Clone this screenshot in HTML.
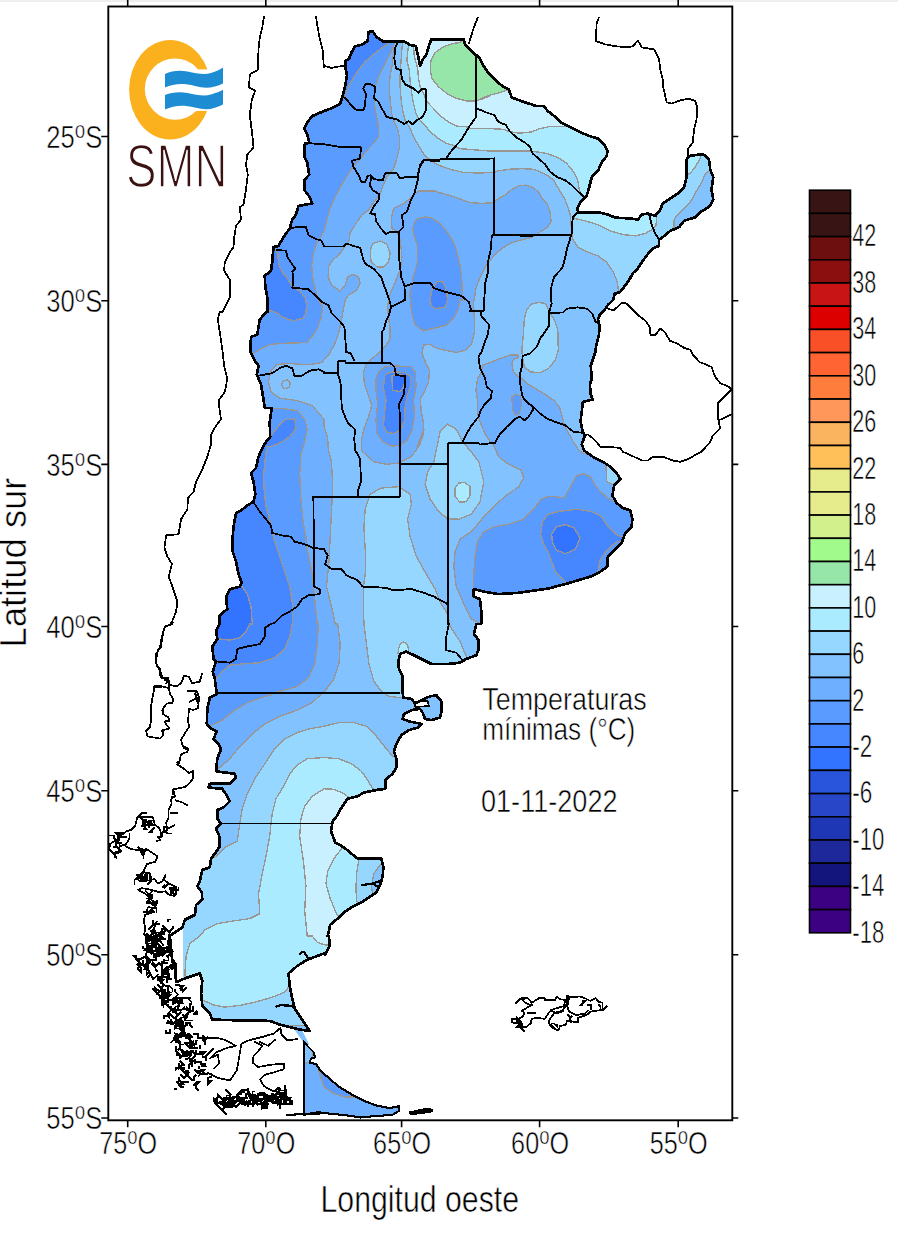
<!DOCTYPE html>
<html><head><meta charset="utf-8"><title>Temperaturas minimas</title>
<style>
html,body{margin:0;padding:0;background:#fff;}
body{width:898px;height:1250px;overflow:hidden;font-family:"Liberation Sans",sans-serif;}
svg{display:block}
text{font-family:"Liberation Sans",sans-serif;fill:#000;stroke:#fff;stroke-width:0.55px}
.tl{font-size:31.3px}
.cbl{font-size:30.5px}
</style></head><body>
<svg width="898" height="1250" viewBox="0 0 898 1250">
<rect width="898" height="1250" fill="#fff"/>
<rect x="0" y="0" width="898" height="2" fill="#eeeeee"/>
<g shape-rendering="crispEdges">
<defs><clipPath id="arg"><path d="M345.2,65.4 L345.2,61.2 L349,58.7 L351.5,52.4 L355.2,46.2 L361.4,44.9 L367.7,41.2 L368.4,32 L372.7,31.2 L376.4,36.9 L382.7,41.2 L386.4,41.2 L403.9,41.2 L410.1,44.9 L415.9,46.2 L417.6,53.7 L420.1,66.2 L422.6,59.9 L426.8,53.7 L428.8,46.2 L431.3,39.4 L463.8,39.4 L465,44.4 L471.3,51.2 L477.5,56.2 L480,58.7 L483.8,66.2 L488.8,73.6 L496.2,81.1 L502.5,86.1 L508.7,89.4 L511.7,97.4 L521.2,101.1 L531.2,104.3 L536.2,106.1 L543.7,106.1 L547.9,111.1 L554.2,116.1 L560.5,122.3 L570.5,127.3 L580.5,132.3 L589.2,136 L597.9,138.5 L604.2,144.8 L607.4,151 L606.7,156 L601.7,162.3 L597.9,171 L591.7,177.2 L589.2,187.2 L586.7,196 L580.5,202.2 L577.5,208.4 L578,212.2 L597.9,212.2 L607.9,214.7 L615.4,217.7 L630.4,218.4 L637.9,219.7 L641.6,214.7 L647.9,213.4 L651.6,214.7 L655.3,215.9 L660.3,209.7 L662.8,203.4 L670.3,198.5 L677.8,193.5 L684,187.2 L686.5,177.2 L686.5,159.8 L689,156 L697.8,154.8 L704,154.8 L709,159.8 L710.3,169.7 L713.3,177.2 L711.5,189.7 L713.3,199.7 L710.3,205.9 L700.3,212.2 L695.3,217.2 L684,220.9 L679.1,227.2 L670.3,230.9 L662.8,237.1 L659.1,239.6 L659.1,245.9 L652.8,248.4 L651.4,250 L646.9,255.3 L641.6,262.5 L637.1,269.6 L632.7,273.2 L629.1,280.3 L623.7,287.4 L620.2,291.9 L614.8,293.7 L613.1,299.9 L607.7,305.2 L604.1,310.6 L599.7,315 L597.9,319.5 L599.7,326.6 L598.8,335.5 L596.1,346.2 L595.2,352.4 L592.6,360.5 L590.8,365.8 L591.7,378.3 L589.9,385.4 L590.8,394.3 L592.6,399.7 L587.9,400.6 L582.9,401.9 L581.7,411.9 L580.5,421.8 L582.9,431.8 L584.9,435.6 L581.7,444.3 L584.2,450.5 L592.9,456.8 L602.9,461.8 L610.4,466.8 L616.6,473 L620.4,479.2 L614.2,485.5 L612.4,495.5 L616.6,503 L622.9,508 L630.4,510.5 L632.4,519.2 L631.6,526.7 L625.4,532.9 L621.6,542.9 L615.4,549.1 L607.9,556.6 L607.4,566.6 L600.4,571.6 L590.4,576.6 L578,580.3 L565.5,584.1 L555.5,586.6 L548,588.6 L536.2,590.3 L518.7,592.8 L498.7,594.1 L483.8,591.6 L473.8,589.1 L473.8,596.6 L480,599.1 L481.3,611.6 L481.3,624 L476.3,624 L473.8,634 L478.8,640.2 L478.8,649 L476.3,655.2 L466.3,658.9 L460,662.7 L448.8,663.9 L431.3,663.9 L423.9,660.2 L413.9,655.2 L406.4,651.5 L400.1,654 L398.4,661.4 L398.9,668.9 L402.6,676.4 L402.6,691.4 L403.4,697.6 L411.4,698.9 L415.1,703.4 L423.9,698.9 L430.1,696.4 L436.3,695.1 L441.3,701.4 L441.8,710.1 L440.1,717.6 L431.3,720.1 L425.1,718.9 L422.6,712.6 L420.1,708.9 L411.4,710.1 L403.9,713.9 L402.6,718.9 L408.9,721.4 L421.4,723.9 L417.6,727.6 L408.9,730.1 L401.4,735.1 L396.4,743.8 L393.9,751.3 L396.4,758.8 L396.4,767.5 L392.6,773.8 L385.2,780 L385.2,788.8 L376.4,790 L363.9,792.5 L357.7,796.2 L347.7,798.7 L341.5,807.5 L337.7,815 L332.7,821.2 L331,831.2 L335.2,842.4 L344,847.4 L351.5,853.7 L357.7,858.6 L381.4,858.6 L383.4,867.4 L382.7,876.1 L380.2,884.9 L376.4,892.3 L368.9,897.3 L361.4,902.3 L351.5,907.3 L344,912.3 L337.7,918.6 L330.2,924.8 L327.7,936 L329,936 L329.5,946 L325.2,954.7 L323.9,953.5 L317.2,956 L307.2,959.7 L297.2,966 L288.5,973.4 L289.7,985.9 L292.2,998.4 L294.7,1008.4 L299.7,1015.9 L304.7,1023.4 L309.7,1030.9 L299.7,1029.6 L289.7,1027.1 L279.7,1024.6 L269.7,1020.9 L239.8,1020.4 L212.3,1019.6 L209.8,1013.4 L202.3,1005.9 L201.1,993.4 L202.3,980.9 L199.9,973.4 L184.9,978.4 L176.1,982.2 L174.9,968.5 L172.4,961 L171.1,948.5 L169.9,936 L169.9,936 L174.9,932.3 L182.4,927.3 L184.9,919.8 L194.9,914.8 L196.1,904.8 L202.3,899.8 L201.8,892.3 L197.4,886.1 L199.9,881.1 L202.3,869.9 L209.8,867.4 L211.1,858.6 L214.8,853.7 L219.8,846.2 L219.3,836.2 L216.1,828.7 L221.1,823.7 L217.3,818.7 L217.3,810 L223.6,807.5 L229.8,801.2 L227.3,796.2 L222.3,788.8 L208.6,787.5 L209.8,783.8 L229.8,783.8 L236,777.5 L234.8,773.8 L216.1,771.3 L217.3,758.8 L221.1,748.8 L218.6,743.8 L213.6,738.8 L216.8,731.3 L211.1,728.8 L206.8,723.9 L207.3,708.9 L209.8,697.6 L216.8,693.9 L214.8,678.9 L212.8,671.4 L216.1,661.4 L213.6,658.9 L212.3,646.5 L217.3,639 L216.1,631.5 L219.3,624 L219.3,624 L219.8,615.3 L227.3,609.1 L226.1,596.6 L229.8,589.1 L239.8,586.6 L241.8,582.8 L238.5,574.1 L236,561.6 L232.8,551.6 L232.3,541.7 L233.5,526.7 L236,512.9 L241,510.5 L247.3,505.5 L253.5,501.7 L255.3,494.2 L253.5,481.7 L251,473 L256,468 L258.5,456.8 L262.3,448 L266,441.8 L270.2,436.8 L269.7,421.8 L271.7,408.1 L264.8,408.1 L263.5,399.4 L261,384.4 L256.8,374.4 L258.5,365.7 L254.8,360.7 L250.3,351.9 L251,337 L257.3,334.5 L259.8,319.5 L266,312 L267.7,312 L267.7,299.6 L265.3,287.1 L264.8,275.8 L271,270.8 L272.2,262.1 L273.5,247.1 L278.5,245.9 L283.5,237.1 L289.7,228.4 L292.2,219.7 L296,214.7 L298.5,205.9 L312.2,203.4 L309.7,197.2 L304.2,189.7 L304.7,179.7 L309.2,174.7 L307.2,162.3 L304.2,156 L304.7,144.8 L309.2,142.3 L307.2,134.8 L304.2,128.6 L307.2,122.3 L312.2,116.1 L323.9,111.1 L332.7,107.8 L340.2,103.6 L342.7,96.1 L345.2,86.1 L347,74.9 L345.2,67.4Z M303.7,1041.4 L306.9,1045.4 L313.6,1052.1 L314.9,1057.4 L310.9,1058.7 L309.6,1062.8 L316.2,1064.1 L320.3,1070.8 L328.3,1077.5 L339,1086.8 L352.3,1094.8 L365.7,1101.5 L376.4,1105.5 L389.7,1108.2 L399.1,1106.1 L399.1,1110.9 L392.4,1114.9 L373.7,1116.2 L360.3,1117.5 L349.7,1115.7 L328.3,1113.5 L317.6,1112.2 L303.7,1114.9Z M292.2,1025.9 L300.2,1026.9 L309,1044.6 L303.7,1042.4Z"/></clipPath><clipPath id="cut"><rect x="183.2" y="0" width="600" height="1250"/></clipPath></defs>
<g clip-path="url(#cut)"><g clip-path="url(#arg)">
<rect x="150" y="0" width="600" height="1130" fill="#82c3ff"/>
<path d="M402.6,42.5 L401.8,50.1 L401,61.8 L400.1,75.1 L400.1,86.8 L401,98.5 L402.6,110.2 L405.1,120.2 L410.2,128.6 L413.5,136.9 L418.5,145.3 L423.5,153.6 L428.5,158.6 L436.9,164.5 L450,169.2 L463.4,172.5 L478.4,173 L494.3,172.5 L497.6,170.9 L510.2,169.2 L521.8,168.7 L532.7,169.2 L540.2,171.7 L546.9,175.1 L553.6,180.1 L556.9,185.9 L560.3,191.8 L564.4,198.4 L567.8,206.8 L570.3,215.1 L570.6,225.2 L571.7,225.9 L572.2,234.6 L573,239.6 L578,247.1 L587.9,252.1 L597.9,255.9 L606.7,262.1 L613.4,272.1 L617.4,282.1 L618.4,290.8 L622.9,292.1 L800,291 L800,-10 L402,-10Z" fill="#96d7ff" stroke="#9a9590" stroke-width="1.35"/>
<path d="M408.5,45.1 L407.6,53.4 L406.8,60.1 L409.3,70.1 L410.2,81.8 L411.8,93.5 L413.5,103.5 L416,113.5 L418.5,118.5 L423.5,123.6 L430.2,131.9 L438.5,138.6 L446.9,143.6 L453.6,145.3 L459.4,148.6 L490,151.1 L495.1,151 L520.1,151 L531,151 L546.8,153.5 L558.5,157.7 L566.9,163.6 L573.6,171.9 L577.7,180.3 L579.4,190.3 L581.1,195.3 L585.2,198.6 L625,200 L625,-10 L408,-10Z" fill="#aaebff" stroke="#9a9590" stroke-width="1.35"/>
<path d="M574.2,214.7 L574.2,218.4 L585.4,220.9 L597.9,224.7 L610.4,230.9 L622.9,234.6 L635.4,235.9 L645.4,233.4 L651.6,229.7 L655.8,225.9 L656.8,219.7 L655.3,210.9 L582.9,209.2Z" fill="#aaebff" stroke="#9a9590" stroke-width="1.35"/>
<path d="M708,171.2 L704.6,174.5 L702.4,181.2 L699,186.8 L695.7,192.3 L692.9,197.9 L690.1,202.4 L685.7,206.8 L681.2,211.3 L676.8,215.7 L674,220.2 L674,226.9 L674,234.7 L730.2,234.7 L730.2,171.2Z" fill="#82c3ff" stroke="#9a9590" stroke-width="1.35"/>
<path d="M700.2,157.8 L697.9,162.3 L694.6,167.8 L690.1,173.4 L687.3,174.5 L674.5,174.5 L674.5,151.1 L700.2,151.1Z" fill="#aaebff" stroke="#9a9590" stroke-width="1.35"/>
<path d="M413.5,45.1 L414.3,56.7 L417.7,68.4 L418.5,78.5 L420.2,86.8 L423.5,93.5 L426.9,101.8 L433.5,108.5 L440.2,116 L448.6,121.9 L456.9,126.1 L466.9,126.9 L470.3,128.6 L490,128.6 L486.7,128.5 L503.4,129.3 L510.1,131.8 L520.1,133.2 L531.8,131.8 L540.2,128.5 L548.5,126.8 L560.2,126.8 L567.7,126.5 L573.6,125.1 L640,100 L640,-10 L413,-10Z" fill="#c8f0ff" stroke="#9a9590" stroke-width="1.35"/>
<path d="M463.6,38.4 L460.3,42.5 L453.6,43.4 L443.6,46.7 L435.2,52.6 L431,60.1 L430.2,70.1 L431.9,78.5 L438.5,86.8 L446.9,93.5 L456.9,98.5 L466.9,101 L475.3,101 L483.6,98.5 L490,96 L480,98.8 L490,95.1 L500.1,92.6 L506.7,90.4 L513.4,88.4 L513.4,43.3Z" fill="#96e6aa" stroke="#9a9590" stroke-width="1.35"/>
<path d="M207.3,859.9 L216.1,856.2 L224.8,847.4 L237.3,841.2 L239.8,823.7 L242.3,808.7 L247.3,793.7 L254.8,778.8 L264.8,763.8 L274.7,748.8 L284.7,738.8 L297.2,732.6 L309.7,728.8 L323.9,726.3 L339,722.6 L354,722.6 L366.4,726.3 L376.4,736.3 L386.4,748.8 L392.6,756.3 L401.4,758.8 L470,756 L470,1140 L150,1140 L150,860Z" fill="#96d7ff" stroke="#9a9590" stroke-width="1.35"/>
<path d="M381.4,791.2 L372.7,788.8 L367.7,780 L361.4,771.3 L351.5,763.8 L339,758.8 L324,757.5 L307.2,758.8 L297.2,765 L289.7,773.8 L283.5,786.3 L276,798.7 L272.2,813.7 L271,823.7 L269.7,836.2 L266,856.2 L262.3,873.6 L258.5,893.6 L259.8,913.6 L249.8,918.6 L232.3,921.1 L217.3,923.6 L204.8,929.8 L199.9,936 L189.9,943.5 L186.1,956 L184.9,973.4 L186.1,985.9 L192.4,994.7 L202.3,999.7 L212.3,1004.6 L224.8,1007.1 L239.8,1005.4 L254.8,1002.2 L272.2,997.2 L284.7,992.2 L288.5,987.2 L299.7,985.9 L420,987 L420,800Z" fill="#aaebff" stroke="#9a9590" stroke-width="1.35"/>
<path d="M356.5,798.7 L349,797.5 L344,793.7 L334,789.3 L324,788.8 L312.2,796.2 L304.7,806.2 L300.9,818.7 L299.7,836.2 L303.4,861.1 L305.9,886.1 L304.7,911.1 L307.2,936 L312.2,936 L317.2,942.2 L323.9,944.7 L334,946 L346.5,923.6 L339,917.3 L336.5,913.6 L330.2,898.6 L326,883.6 L327.7,871.1 L334,858.6 L341.5,848.7 L349,846.2 L349,823.7 L358.9,803.7Z" fill="#c8f0ff" stroke="#9a9590" stroke-width="1.35"/>
<path d="M358.9,856.2 L358.9,859.9 L356.5,873.6 L356,888.6 L356.5,901.1 L361.4,904.8 L398.9,898.6 L398.9,856.2Z" fill="#96d7ff" stroke="#9a9590" stroke-width="1.35"/>
<path d="M383.9,862.4 L380.2,864.9 L373.9,873.6 L371.4,886.1 L372.7,893.6 L398.9,893.6 L398.9,861.1Z" fill="#82c3ff" stroke="#9a9590" stroke-width="1.35"/>
<path d="M406.4,697.9 L400.1,697.6 L388.9,696.4 L381.4,691.4 L373.9,681.4 L368.9,663.9 L366.4,644 L363.9,624 L363.4,586.6 L365.2,574.1 L365.2,549.1 L363.9,526.7 L365.2,509.2 L370.2,494.2 L381.4,488 L398.9,486.7 L410.1,494.2 L411.4,504.2 L407.6,519.2 L410.1,536.7 L416.4,556.6 L426.3,574.1 L435.1,589.1 L441.3,604.1 L447.6,614 L450.1,626.5 L460,641.5 L466.3,656.5 L471.3,661.4 L478.8,686.4 L408.9,686.4Z" fill="#96d7ff" stroke="#9a9590" stroke-width="1.35"/>
<path d="M397.9,653.5 L398.9,647.7 L400.1,644 L403.9,642 L407.6,645.2 L408.9,652 L403.9,655.2Z" fill="#aaebff" stroke="#9a9590" stroke-width="1.35"/>
<path d="M433.8,461.8 L440.1,431.8 L447.6,424.3 L456.3,429.3 L462.5,441.8 L471.3,451.8 L478.8,461.8 L483.8,481.7 L480,501.7 L471.3,514.2 L458.8,519.2 L447.6,518.7 L438.8,511.7 L430.1,499.2 L425.1,484.2 L427.6,471.8Z" fill="#96d7ff" stroke="#9a9590" stroke-width="1.35"/>
<path d="M455.1,488 L458.8,483 L465,482.5 L470,486.7 L470,495.5 L466.3,501.7 L460,502.2 L455.1,496.7Z" fill="#aaebff" stroke="#9a9590" stroke-width="1.35"/>
<path d="M526.9,310 L531,304.2 L538.5,302.5 L545.2,303.3 L548.6,310 L555.2,321.7 L557.8,330.1 L558.3,350.1 L555.2,360.1 L548.6,368.5 L540.2,372.7 L530.2,371.8 L524.3,366.8 L522.7,358.5 L521.8,350.1 L523.5,333.4 L524.3,318.4Z" fill="#96d7ff" stroke="#9a9590" stroke-width="1.35"/>
<path d="M370.2,250.2 L372.7,243.5 L380.2,241 L386.9,244.4 L390.2,253.6 L388.5,261.9 L383.5,266.9 L376.9,266.9 L371,261.1Z" fill="#96d7ff" stroke="#9a9590" stroke-width="1.35"/>
<path d="M393.8,36.7 L393.8,43.4 L393.4,53.4 L392.6,63.4 L390.1,75.1 L389.3,86.8 L390.1,100.2 L391.8,113.5 L394.3,121.9 L397.6,128.6 L399.3,136.9 L399.3,148.6 L396.8,158.6 L393.6,168.4 L386.9,176.7 L382.7,186.7 L380.2,194.3 L375.2,200.1 L368.5,210.1 L361.8,215.1 L356,223.5 L350.1,232.7 L349.3,240.2 L345.1,246 L340.1,253.6 L333.4,259.4 L328.8,266.1 L328.1,276.9 L331.8,285.3 L340.1,291.1 L345.1,285.3 L347.6,276.9 L352.6,274.4 L358.5,276.9 L360.2,283.6 L356.8,290.3 L348.5,295.3 L345.1,300 L344.3,305 L342.6,313.4 L340.9,323.4 L338.4,333.4 L334.3,345.1 L328.4,355.1 L321.7,362.6 L311.7,364.3 L300,364.3 L290,363.5 L277.2,364.4 L271,370.7 L268.5,381.9 L271,391.9 L279.7,398.1 L297.2,400.6 L312.2,405.6 L319.7,414.3 L323.9,419.3 L324.2,426.9 L327.6,437 L328.4,450 L331.5,461.8 L332.7,486.7 L331.5,511.7 L330.2,536.7 L329,561.6 L326.5,586.6 L332.7,611.6 L335.2,624 L337.7,624 L340.2,644 L339,663.9 L334,678.9 L326.5,688.9 L324,691.4 L312.2,702.6 L297.2,710.1 L279.7,716.4 L264.8,723.9 L252.3,733.8 L239.8,746.3 L229.8,758.8 L219.8,767.5 L209.8,771.3 L150,767 L150,-10 L393,-10Z" fill="#6eafff" stroke="#9a9590" stroke-width="1.35"/>
<path d="M281.5,384.4 L283.5,380.6 L287.2,379.9 L290.2,383.1 L289.2,386.9 L286,388.9 L282.7,387.6Z" fill="#82c3ff" stroke="#9a9590" stroke-width="1.35"/>
<path d="M440,193.4 L435.3,190.9 L418.6,190.9 L414.4,194.3 L410.3,198.4 L403.6,203.4 L393.6,208.5 L391.6,216.8 L391.9,228.5 L396.9,231.8 L400.2,240.2 L401.1,248.5 L401.9,256.9 L401.6,265.2 L398.6,273.6 L395.2,282 L390.2,293.6 L388.5,300 L387.7,306.7 L388.5,316.7 L389.9,326.7 L389.9,338.4 L386,345.9 L380.2,351.8 L371,359.3 L366,364.3 L363.5,371.8 L364.3,383.5 L367.7,393.5 L371.8,405.2 L368.5,416.9 L363.5,430.3 L361.8,438.6 L361.8,450 L362.7,451.8 L373.9,461.8 L386.4,464.3 L398.9,463 L411.4,456.8 L420.1,444.3 L423.9,429.3 L416.9,447 L422.8,437 L423.6,423.6 L421.1,410.2 L420.3,398.5 L423.6,393.5 L428.6,381.8 L429.5,370.2 L425.3,361.8 L422,353.4 L423.6,345.1 L430.3,344.3 L435.3,347.6 L440,349.3 L448.4,350.9 L456.7,352.6 L465.1,350.1 L471.7,343.4 L474.2,333.4 L474.2,316.7 L473.4,300 L474.2,300 L475.9,288.6 L480.1,276.9 L485.1,266.9 L490.1,260.2 L495.1,254.4 L501.8,248.5 L510.2,243.5 L520.2,240.2 L531,237.7 L536.9,234.9 L540.2,231.8 L546.9,227.7 L551.1,221.8 L550.2,212.6 L546.9,203.4 L541.9,198.4 L538.5,191.8 L532.7,187.6 L526,185.1 L518.5,185.9 L511.8,189.3 L505.1,195.1 L497.6,199.3 L494.3,202.6 L481.8,203.4 L470.1,202.6 L458.4,198.4 L448.4,195.1 L440,192.6Z" fill="#6eafff" stroke="#9a9590" stroke-width="1.35"/>
<path d="M482.6,365.1 L490.1,362.6 L500.1,358.5 L510.2,355.1 L517.7,354.8 L518.5,357.6 L513.5,359.3 L511.8,364.3 L513.5,371.8 L517.7,376 L521.8,378.5 L526.9,383.5 L535.2,388.5 L545.2,394.4 L553.6,400.2 L559.4,406.9 L561.9,415.2 L564.4,425.3 L568.6,433.6 L573.6,442 L578.6,450 L583.6,453.7 L700,460 L700,640 L479,640 L478.8,622.8 L471.3,619 L463.8,604.1 L456.3,586.6 L453.8,566.6 L455.1,551.6 L460,539.2 L471.3,531.7 L483.8,516.7 L496.2,504.2 L506.2,495.5 L518.7,486.7 L523.7,478 L521.2,470.5 L508.7,464.3 L498.7,456.8 L493.7,445.5 L489.3,440.3 L485.1,433.6 L480.1,421.9 L477.6,413.6 L477.6,400.2 L475.9,390.2 L477.6,378.5 L480.9,373.5Z" fill="#6eafff" stroke="#9a9590" stroke-width="1.35"/>
<path d="M395.1,36.7 L395.1,42.5 L390.1,53.4 L384.3,65.1 L378.4,76.8 L375.9,85.1 L374.2,93.5 L374.2,103.5 L375.9,113.5 L378.1,123.6 L378.4,136.9 L373.4,143.6 L365.1,152 L360.2,159.2 L351.8,168.4 L343.4,181.7 L335.9,195.1 L330.1,208.5 L326.7,220.2 L324.2,230.2 L320.1,237.7 L316.7,242.7 L313.4,253.6 L311.7,265.2 L312.5,276.9 L315.1,288.6 L318.4,300 L321.7,304.2 L322.6,308.4 L320.9,318.4 L317.6,327.6 L313.4,335.1 L306.7,342.6 L290,343.1 L284.7,343.2 L269.7,344.5 L259.8,349.4 L253.5,353.2 L247.3,354.4 L150,355 L150,-10 L395,-10Z" fill="#5a9bff" stroke="#9a9590" stroke-width="1.35"/>
<path d="M267.2,408.1 L272.2,408.1 L284.7,408.9 L297.2,410.6 L304.7,419.3 L307.2,429.3 L304.7,441.8 L300.9,454.3 L299.7,474.3 L300.9,499.2 L303.4,524.2 L305.9,536.7 L307.2,549.1 L309.7,561.6 L312.2,574.1 L314.7,599.1 L317.2,624 L318.4,624 L317.2,644 L314.7,663.9 L308.4,677.7 L297.2,686.4 L279.7,691.4 L269.7,695.1 L249.8,701.4 L234.8,710.1 L222.3,720.1 L209.8,726.3 L199.9,728.8 L150,730 L150,408Z" fill="#5a9bff" stroke="#9a9590" stroke-width="1.35"/>
<path d="M440,223.5 L432,218.1 L425.3,216.8 L418.6,218.5 L414.4,221.8 L412.8,228.5 L414.4,236.9 L417.8,246.9 L417.8,260.2 L415.3,270.3 L412.8,278.6 L411.9,283.6 L409.9,292 L410.3,300 L410.3,300 L411.9,313.4 L415.3,325.1 L423.6,330.9 L433.6,328.4 L440,326.7 L440,326.7 L446.7,325.1 L453.4,318.4 L458.4,308.4 L460,300 L462.5,300 L461.7,276.9 L460,265.2 L456.7,251.9 L453.4,241.9 L446.7,231.8 L440,223.5Z" fill="#5a9bff" stroke="#9a9590" stroke-width="1.35"/>
<path d="M430,300 L432,290 L437,281.5 L443,282 L446.7,291 L447.5,300 L445,307 L440,308 L435,308.5 L431.5,306Z" fill="#4687ff" stroke="#9a9590" stroke-width="1.35"/>
<path d="M376,378.5 L378.5,371.8 L385.2,366.8 L396.9,366 L411.1,366.8 L415.3,371.8 L416.1,386.9 L413.6,400.2 L414.4,416.9 L411.9,430.3 L406.9,440.3 L400.2,445.3 L391.9,446.1 L383.5,442 L376.9,433.6 L376,420.3 L377.7,403.6 L376,390.2Z" fill="#5a9bff" stroke="#9a9590" stroke-width="1.35"/>
<path d="M384.4,376.8 L386.9,373.5 L393.6,371.8 L405.2,372.7 L410.3,376.8 L410.3,386.9 L406.9,396.9 L405.2,406.9 L404.4,420.3 L400.2,430.3 L393.6,433.6 L386.9,432 L383.5,425.3 L384.4,413.6 L386,400.2 L383.5,388.5Z" fill="#4687ff" stroke="#9a9590" stroke-width="1.35"/>
<path d="M391.9,376 L392.2,383.5 L392.7,390.2 L400.2,391.5 L403.6,386.9 L405.2,378.5 L403.6,375.2 L396.9,374.3Z" fill="#3273ff" stroke="#9a9590" stroke-width="1.35"/>
<path d="M511.8,396.9 L516,394.4 L520.2,396 L521.8,403.6 L519.3,413.6 L515.2,415.2 L512.7,409.4Z" fill="#5a9bff" stroke="#9a9590" stroke-width="1.35"/>
<path d="M473.8,590.3 L473.8,574.1 L475,556.6 L477.5,541.7 L483.8,531.7 L493.7,526.7 L508.7,524.2 L523.7,519.2 L533.7,509.2 L541.2,499.2 L547.9,496.7 L555.5,496.7 L564.2,498 L570.5,486.7 L576.7,475.5 L584.2,473.8 L590.4,476.8 L594.2,484.2 L600.4,491.7 L607.9,498 L614.2,501.7 L622.9,504.2 L700,500 L700,612 L483.8,595.3Z" fill="#5a9bff" stroke="#9a9590" stroke-width="1.35"/>
<path d="M547.9,514.2 L542.4,521.7 L540.7,534.2 L543.7,544.2 L547.9,551.6 L555.5,571.6 L565.5,582.1 L578,599.1 L647.9,561.6 L632.9,531.7 L621.6,536.7 L615.4,534.2 L607.9,526.7 L601.7,516.7 L591.7,511.7 L578,509.2 L560.5,511.2 L548,514.2Z" fill="#4687ff" stroke="#9a9590" stroke-width="1.35"/>
<path d="M616.6,541.7 L606.7,550.4 L600.4,559.1 L597.9,571.6 L596.7,576.6 L612.9,576.6 L627.9,541.7Z" fill="#5a9bff" stroke="#9a9590" stroke-width="1.35"/>
<path d="M551.7,534.2 L556.7,526.7 L565.5,524.7 L574.2,527.9 L580,537.9 L575.5,549.1 L565.5,553.6 L556.7,550.4 L552.5,542.9Z" fill="#3273ff" stroke="#9a9590" stroke-width="1.35"/>
<path d="M262.3,443.1 L266,443.1 L274.7,430.6 L284.7,419.8 L294.7,418.8 L296,428.1 L289.7,436.8 L279.7,443.1 L269.7,446.8 L266.7,446.8 L264.8,461.8 L263.5,476.8 L264.3,491.7 L266,506.7 L269.7,519.2 L272.2,531.7 L274.7,541.7 L279.7,556.6 L284.7,571.6 L289.7,586.6 L292.2,601.6 L292.2,624 L292.2,624 L289.7,636.5 L284.7,649 L274.7,657.7 L259.8,662.7 L242.3,663.9 L229.8,665.2 L222.3,671.4 L216.8,677.7 L209.8,680.2 L150,680 L150,440Z" fill="#4687ff" stroke="#9a9590" stroke-width="1.35"/>
<path d="M237.3,585.3 L242.3,586.6 L247.3,594.1 L251,606.6 L252.3,624 L249.8,624 L246,631.5 L239.8,637.7 L229.8,640.2 L219.3,639 L209.8,639 L150,640 L150,585Z" fill="#3273ff" stroke="#9a9590" stroke-width="1.35"/>
<path d="M388.4,36.7 L388.4,43.4 L380.1,49.2 L373.4,54.2 L365.1,61.8 L358.4,70.1 L353.4,77.6 L349.2,85.1 L346.3,91.8 L345,96.8 L340,100.2 L323.3,100.2 L323.3,20Z" fill="#4687ff" stroke="#9a9590" stroke-width="1.35"/>
<path d="M273.4,247.8 L275.6,250.1 L277.9,253.4 L278.4,262.3 L280.1,267.9 L282.9,273.5 L286.8,276.8 L289.6,282.4 L292.3,285.7 L296.8,289 L301.2,292.9 L305.1,298 L306.8,305.7 L305.7,312.4 L303.5,318 L297.9,319.7 L293.5,320.8 L287.9,319.1 L282.3,316.9 L276.7,313 L272.3,311.3 L269.5,310.8 L256.7,310.8 L256.7,247.8Z" fill="#4687ff" stroke="#9a9590" stroke-width="1.35"/>
<path d="M301.5,1062.8 L440.5,1062.8 L440.5,1126.9 L301.5,1126.9Z" fill="#6eafff" stroke="#9a9590" stroke-width="1.35"/>
<path d="M290.9,1025.3 L312.2,1025.3 L312.2,1062.2 L301.5,1062.2Z" fill="#82c3ff" stroke="#9a9590" stroke-width="1.35"/>
<path d="M318.9,1070.8 L320.3,1076.1 L324.3,1086.8 L333.6,1093.5 L345.6,1097 L353.7,1097 L344.3,1089.5 L333.6,1082.8 L325.6,1074.8Z" fill="#5a9bff" stroke="#9a9590" stroke-width="1.35"/>
<path d="M605.9,465.5 L606.7,481.7 L612.9,484.7 L622.9,478 L620.4,466.8Z" fill="#96d7ff" stroke="#9a9590" stroke-width="1.35"/>
</g></g>
<path d="M264,16.2 L262.3,27.5 L259.8,37.4 L258.5,49.9 L257.8,69.9 L249.8,74.4 L249,87.4 L255.3,90.4 L251.8,99.9 L249.8,114.8 L252.3,134.8 L253.5,147.3 L247.3,154.8 L246,164.8 L247.8,174.7 L246,189.7 L243.5,204.7 L239.8,207.2 L241,219.7 L236,225.9 L234.3,237.1 L233.5,247.1 L229.8,252.1 L224.8,262.1 L224.1,270.8 L229.8,279.6 L230.3,297.1 L227.3,302 L222.3,312 L219.8,312 L217.8,319.5 L219.8,332 L222.3,349.4 L224.3,366.9 L227.3,378.9 L224.8,391.9 L218.6,400.6 L219.8,411.9 L221.1,419.3 L216.1,425.6 L211.1,434.3 L211.1,444.3 L207.3,456.8 L202.3,469.3 L196.1,481.7 L193.6,491.7 L187.9,498 L187.4,509.2 L181.1,519.2 L178.6,534.2 L166.2,535.4 L164.4,547.9 L167.4,556.6 L171.9,564.1 L168.6,576.6 L172.4,586.6 L177.4,601.6 L176.1,611.6 L171.1,624 L172.4,624 L164.9,626.5 L161.9,636.5 L159.9,647.7 L156.2,654 L156.2,663.9 L159.9,670.2 L162.4,677.7 L168.6,677.7 L166.2,683.9" fill="none" stroke="#000" stroke-width="1.75" stroke-linejoin="round"/>
<path d="M315.9,16.2 L317.7,27.5 L319.7,38.7 L322.7,49.9 L323.9,67.4 L325.2,66.2 L331.5,67.9 L345.2,65.4" fill="none" stroke="#000" stroke-width="1.75" stroke-linejoin="round"/>
<path d="M478,17 L473.8,27.5 L468.8,43.7" fill="none" stroke="#000" stroke-width="1.75" stroke-linejoin="round"/>
<path d="M599.2,17 L596.7,22.5 L595.9,41.2 L605.4,44.4 L615.4,46.2 L627.9,47.4 L632.9,46.2 L637.9,40.4 L641.6,47.4 L654.1,49.4 L659.1,58.7 L660.3,69.9 L662.8,79.9 L663.3,87.4 L665.3,96.1 L666.6,102.3 L671.6,103.6 L680.3,100.3 L689,98.6 L695.3,101.1 L697.3,107.3 L696.5,119.8 L694,129.8 L692.8,142.3 L688.3,148.5 L687.8,156" fill="none" stroke="#000" stroke-width="1.75" stroke-linejoin="round"/>
<path d="M606.8,307.9 L613.1,310.6 L617.5,307 L622,302.6 L626.4,303.5 L632.7,309.7 L638.9,315.9 L645.1,320.4 L649.6,326.6 L650.5,335.2 L655.8,334.6 L660.3,328.4 L664.7,332 L670.1,340.9 L677.2,343.5 L684.3,348 L690.6,349.8 L693.2,355.1 L699.8,362.2 L702.8,363.2 L711.5,366.9 L715.2,376.9 L720.2,383.1 L729,386.9 L731.5,389.4" fill="none" stroke="#000" stroke-width="1.75" stroke-linejoin="round"/>
<path d="M731.5,389.4 L722.7,398.1 L717.7,403.1 L718.2,419.3 L720.2,428.1 L712.8,435.6 L710.3,441.8 L701.5,451.8 L696.5,454.3 L687.8,459.3 L680.3,461.8 L672.8,460.5 L662.8,456.8 L652.8,456.8 L647.9,460.5 L641.6,460.5 L634.1,456.8 L622.9,451.8 L620.4,448 L607.9,446.8 L600.4,446.8 L595.4,440.6 L587.9,434.3 L584.9,435.6" fill="none" stroke="#000" stroke-width="1.75" stroke-linejoin="round"/>
<path d="M718.2,420.6 L731.5,414.3" fill="none" stroke="#000" stroke-width="1.75" stroke-linejoin="round"/>
<path d="M198,1038 L218,1038 L225.8,1040.2 L235.8,1045.8 L226.9,1048 L215.8,1052.5 L210.2,1058.1 L218,1054.7 L219.1,1063.6 L213.5,1069.2" fill="none" stroke="#000" stroke-width="1.75" stroke-linejoin="round"/>
<path d="M241.4,1043.6 L249.2,1040.2 L262.5,1036.9 L273.7,1033.6 L280.4,1028 L281.5,1034.7 L287,1040.2 L298.2,1039.1" fill="none" stroke="#000" stroke-width="1.75" stroke-linejoin="round"/>
<path d="M241.4,1043.6 L239.2,1056.9 L236.9,1070.3 L230.2,1080.3 L218,1078.1 L206.9,1072.5" fill="none" stroke="#000" stroke-width="1.75" stroke-linejoin="round"/>
<path d="M253.6,1041.4 L262.5,1045.8 L258.1,1051.4 L253.6,1055.8 L252.5,1062.5 L258.1,1067 L271.4,1064.7 L283.7,1063.6 L283.7,1069.2 L273.7,1072.5 L264.8,1074.8 L260.3,1079.2 L263.7,1085.9 L271.4,1090.4 L283.7,1093.7" fill="none" stroke="#000" stroke-width="1.75" stroke-linejoin="round"/>
<path d="M259.2,1041.4 L268.1,1045.8 L275.9,1039.1" fill="none" stroke="#000" stroke-width="1.75" stroke-linejoin="round"/>
<path d="M170.1,930 L167.9,943.4 L171.2,956.7 L175.7,963.4 L175.7,981.2" fill="none" stroke="#000" stroke-width="1.75" stroke-linejoin="round"/>
<path d="M163.1,633.4 L160.8,647.4 L157.7,650.5 L156.1,659.9 L156.9,666.1 L160,669.2 L160,675.5 L162.4,678.6 L167,678.6 L169.4,684.8 L176.4,686.4 L181.1,683.3 L184.2,675.5 L188.9,677 L192,683.3 L199.8,681.7 L202.1,673.1" fill="none" stroke="#000" stroke-width="1.75" stroke-linejoin="round"/>
<path d="M153.8,686.4 L156.9,685.6 L162.4,686.4 L168.6,688 L170.2,694.2 L173.3,698.9 L172.5,702.8 L167,703.5 L163.1,708.2 L162.4,713.7 L168.6,717.6 L169.4,720.7 L164.7,721.5 L167,725.4 L169.4,728.5 L163.1,730 L163.1,735.5 L160,738.6 L147.6,736.3 L146,730.8 L149.9,726.9 L151.4,719.1 L150.7,709 L152.2,698.9 L153.8,691.1 L153.8,686.4" fill="none" stroke="#000" stroke-width="1.75" stroke-linejoin="round"/>
<path d="M186.5,691.1 L196.7,691.1 L199,697.3 L198.2,708.2 L193.5,709.8 L188.9,709 L188.1,722.3 L189.6,726.2 L185,733.2 L181.1,739.4 L182.6,745.6 L188.1,748.8 L187.3,751.9 L181.1,754.2 L179.5,761.2 L177.2,764.3 L184.2,769 L188.9,772.9 L193.5,770.6 L192.8,778.4 L190.4,782.3 L185,787 L173.3,789.3 L172.5,795.5 L170.9,800.1" fill="none" stroke="#000" stroke-width="1.75" stroke-linejoin="round"/>
<path d="M188.9,702 L195.1,698.9 L199.8,700.4" fill="none" stroke="#000" stroke-width="1.75" stroke-linejoin="round"/>
<path d="M173.3,790 L174.8,796.2 L170.9,799.4 L171.7,804 L168.6,810.3 L168.6,818.1 L166.3,822.7 L167,830.5 L162.4,832.9 L161.6,836.8 L157.7,836.8 L160,839.9 L156.1,841.4" fill="none" stroke="#000" stroke-width="1.75" stroke-linejoin="round"/>
<path d="M174.8,800.1 L182.6,802.5 L188.1,805.6" fill="none" stroke="#000" stroke-width="1.75" stroke-linejoin="round"/>
<path d="M170.2,812.6 L178,813.4" fill="none" stroke="#000" stroke-width="1.75" stroke-linejoin="round"/>
<path d="M167,829 L174.8,825.1" fill="none" stroke="#000" stroke-width="1.75" stroke-linejoin="round"/>
<path d="M161.6,836.8 L160.8,832.1 L159.2,828.2 L154.6,824.3 L153,817.3 L137.4,817.3 L135.1,825.9 L131.2,829.8 L126.5,831.3 L120.3,836 L115.6,840.7 L110.1,843.8 L109.4,849.2 L114,853.9 L119.5,852.4 L119.5,846.1 L125.7,844.6 L129.6,838.3 L129.6,832.9" fill="none" stroke="#000" stroke-width="1.75" stroke-linejoin="round"/>
<path d="M125.7,846.1 L131.2,849.2 L139,850 L146.8,849.2 L151.4,852.4 L157.7,856.3 L155.3,861.7 L146.8,864.1 L144.4,869.5 L142.1,875 L136.6,878.9 L140.5,881.2 L149.9,880.4 L154.6,878.9 L157.7,883.5 L162.4,881.2 L165.5,875 L163.9,879.6 L168.6,883.5 L176.4,887.4 L174.8,896 L168.6,894.5 L165.5,891.3 L159.2,892.1 L151.4,889.8 L142.1,888.2 L138.2,889.8 L143.7,892.9 L148.3,896 L152.2,900.7 L156.9,903 L154.6,908.5 L148.3,906.9 L146,911.6 L153,912.4 L145.2,914.7 L143.7,921 L145.2,927.2 L144.4,933.4 L146.8,938.1 L146.8,945.9 L153,947.5 L146.8,952.1 L145.2,956.8 L137.4,960.7 L142.1,964.6 L148.3,969.3 L151.4,975.5 L153,980.1" fill="none" stroke="#000" stroke-width="1.75" stroke-linejoin="round"/>
<path d="M156.9,921 L154.6,927.2 L152.2,931.9 L159.2,932.7" fill="none" stroke="#000" stroke-width="1.75" stroke-linejoin="round"/>
<path d="M153,935 L159.2,939.7 L163.9,945.9" fill="none" stroke="#000" stroke-width="1.75" stroke-linejoin="round"/>
<path d="M521,998.3 L528.1,998.3 L531.7,1002.8 L538.8,998.3 L545,998.3 L545,1000.1 L554.8,1000.1 L556.6,996.5 L560.2,999.2 L565.5,1000.1 L563.7,1006.3 L556.6,1008.1 L551.3,1009.9 L547.7,1014.3 L545,1018.8 L537,1017.9 L531.7,1018.8 L530.8,1023.3 L526.3,1026.8 L521.9,1026.8 L517.4,1023.3 L512.1,1022.4 L512.1,1018.8 L517.4,1018.8 L522.8,1017 L524.5,1012.6 L521.9,1010.8 L526.3,1008.1 L530.8,1005.4 L525.4,1002.8 L522.8,1000.1 L521,998.3" fill="none" stroke="#000" stroke-width="1.75" stroke-linejoin="round"/>
<path d="M567.3,994.7 L569.1,997.4 L579.8,996.5 L585.1,998.3 L590.5,1001 L595.8,998.3 L598.5,1001.9 L602.6,1002.8 L602.6,1009.9 L595.8,1010.8 L590.5,1011.7 L587.8,1014.3 L583.3,1016.1 L578,1017.9 L578,1022.4 L572.7,1021.5 L567.3,1020.6 L565.5,1025 L560.2,1025.9 L558.4,1030.4 L553.9,1028.6 L550.4,1025.9 L548.6,1021.5 L551.3,1017 L554.8,1012.6 L562,1010.8 L565.5,1006.3 L567.3,1001 L567.3,994.7" fill="none" stroke="#000" stroke-width="1.75" stroke-linejoin="round"/>
<path d="M551.3,1010.8 L556.6,1013.5 L563.7,1010.8" fill="none" stroke="#000" stroke-width="1.75" stroke-linejoin="round"/>
<path d="M569.1,998.3 L567.3,1006.3 L569.1,1011.7 L576.2,1015.2 L585.1,1013.5 L588.7,1009.9" fill="none" stroke="#000" stroke-width="1.75" stroke-linejoin="round"/>
<path d="M165,939 L161,939 L161,935 L165,931 M148,937 L148,938.5 L144,934.5 L146,934.5 M148,939 L149.5,939 L149.5,941 M162,952 L162,950 L160,950 L162,948 M167,956 L168.5,957.5 L168.5,960.5 L165.5,960.5 M167,950 L169,952 L172,952 L168,956 M157,951 L157,949 L153,945 M150,940 L153,937 L149,937 L150.5,935.5 L150.5,939.5 M163,938 L159,934 L161,932 L161,934 M163,953 L163,949 L166,952 L163,955 L163,952 M160,950 L158,948 L160,950 L160,951.5 M154,942 L154,946 L150,946 L148.5,946 L151.5,949 M147,934 L149,936 L146,936 M168,921 L168,919.5 L170,919.5 M164,929 L162,929 L162,932 L164,934 M160,940 L156,940 L156,938.5 L159,938.5 L159,941.5 M151,931 L153,933 L149,937 L151,937 L155,937 M163,926 L167,930 L169,932 L173,928 L173,926.5 M159,935 L159,936.5 L156,933.5 L156,935.5 L159,935.5 M148,941 L146,939 L146,942 L146,943.5 M167,967 L163,971 L163,972.5 M155,954 L155,956 L155,954.5 L159,950.5 L163,950.5 M159,951 L161,951 L161,948 L159,950 M152,964 L155,967 L159,963 L161,965 M147,946 L149,948 L152,948 M167,963 L164,963 L164,959 L164,960.5 M156,957 L156,960 L152,960 M158,955 L155,955 L153.5,956.5 L153.5,953.5 M147,950 L148.5,948.5 L144.5,948.5 L143,948.5 L143,946.5 M162,962 L162,964 L162,965.5 L162,969.5 M161,977 L165,977 L163.5,977 L163.5,974 L165,974 M167,948 L163,948 L163,951 L163,952.5 L160,952.5 M171,965 L167,969 L170,966 M159,954 L157.5,954 L159,954 M160,977 L158,977 L158,980 L161,980 L161,983 M162,979 L160.5,979 L162,980.5 M147,952 L148.5,952 L147,950.5 M146,958 L146,954 L146,955.5 L149,958.5 M167,947 L167,950 L168.5,950 M167,970 L167,968 L168.5,969.5 M167,972 L169,974 L169,977 L169,979 L171,979 M153,989 L156,992 L160,996 L164,1000 M169,967 L173,967 L171.5,968.5 L174.5,968.5 M167,977 L167,981 L167,982.5 L167,978.5 M162,975 L162,973 L162,970 L162,966 L162,962 M166,986 L168,986 L169.5,986 L172.5,989 L172.5,991 M168,988 L168,992 L166.5,993.5 L162.5,993.5 M157,971 L155.5,969.5 L155.5,965.5 L152.5,962.5 L152.5,964.5 M176,985 L177.5,985 L179,985 M160,998 L161.5,996.5 L161.5,994.5 L161.5,998.5 L161.5,1000.5 M166,993 L166,991.5 L166,995.5 L163,995.5 M160,981 L164,985 L162.5,986.5 M172,969 L172,967 L174,967 L176,969 M165,974 L165,972 L168,975 L168,971 L166,971 M162,980 L163.5,980 L162,981.5 M175,990 L175,991.5 L178,994.5 L175,997.5 L175,1000.5 M162,980 L162,977 L166,977 L162,977 L158,977 M165,992 L163,994 L163,990 L160,987 L158,985 M157,990 L159,990 L157,990 L155,988 L155,989.5 M164,1002 L168,1006 L168,1004.5 L166.5,1004.5 M186,998 L182,998 L180,998 M162,998 L163.5,998 L163.5,1001 L163.5,1003 L163.5,1007 M175,1003 L175,1001 L175,1004 L175,1001 L177,999 M166,993 L166,997 L169,994 L169,992.5 L171,992.5 M186,1009 L184,1009 L184,1007.5 L181,1010.5 M164,999 L166,997 L162,997 L162,994 M180,1000 L181.5,1000 L183,998.5 M169,996 L169,994.5 L169,991.5 M190,1004 L191.5,1004 L191.5,1002 L187.5,998 L190.5,998 M181,998 L182.5,998 L182.5,1001 M186,988 L184.5,989.5 L182.5,991.5 L182.5,988.5 L180.5,986.5 M175,1000 L179,1004 L179,1002 L175,998 L179,998 M168,997 L166,995 L170,995 L168,997 M173,999 L173,1001 L173,1004 M181,990 L181,987 L179.5,985.5 L183.5,985.5 L180.5,988.5 M162,1005 L162,1001 L166,1001 L166,1003 M165,990 L163,990 L161,990 L157,994 M175,1008 L175,1012 L176.5,1012 L176.5,1010 L180.5,1010 M194,1014 L197,1014 L197,1011 L197,1013 M169,1014 L167,1014 L170,1014 L174,1018 M186,1023 L190,1023 L190,1025 L192,1027 M168,1021 L168,1019.5 L168,1022.5 L169.5,1022.5 L171,1024 M185,1019 L185,1020.5 L188,1020.5 L192,1020.5 M189,1011 L193,1011 L193,1007 M186,1015 L189,1012 L189,1010 M180,1019 L180,1022 L176,1026 L176,1022 L176,1020.5 M190,1005 L190,1009 L190,1011 L187,1008 L187,1010 M188,1014 L185,1017 L183,1015 M175,1000 L171,1000 L168,1000 L164,1004 M178,1008 L178,1005 L178,1006.5 L175,1006.5 L179,1006.5 M168,1002 L168,998 L166,998 L162,994 L162,992 M181,1002 L182.5,1003.5 L181,1003.5 L179,1001.5 M182,1023 L182,1026 L182,1030 L185,1033 M194,1014 L196,1012 L196,1014 M180,1023 L180,1027 L180,1025 L180,1029 L182,1031 M183,1026 L183,1022 L181.5,1022 L181.5,1019 M171,1007 L171,1009 L169.5,1007.5 L165.5,1003.5 M176,1026 L179,1023 L179,1024.5 M187,1017 L185,1019 L185,1017.5 L181,1017.5 M180,1026 L178.5,1026 L174.5,1026 L174.5,1029 M169,1014 L169,1017 L167.5,1015.5 M175,1040 L175,1037 L179,1041 L179,1043 L180.5,1043 M176,1027 L176,1028.5 L178,1028.5 M179,1023 L176,1020 L176,1017 L179,1014 M196,1048 L192,1048 L192,1044 L192,1045.5 M182,1025 L182,1021 L178,1021 L178,1019.5 L180,1019.5 M170,1030 L170,1033 L166,1033 L166,1031 M176,1023 L176,1021 L173,1024 L171.5,1024 M176,1042 L180,1042 L180,1043.5 M184,1030 L184,1026 L186,1026 L183,1026 L181,1026 M180,1045 L180,1048 L178.5,1049.5 M173,1012 L173,1010 L174.5,1010 L173,1008.5 L169,1012.5 M171,1020 L171,1023 L167,1023 M172,1022 L168,1022 L171,1022 M189,1035 L189,1039 L193,1043 M181,1033 L179.5,1034.5 L182.5,1034.5 M188,1034 L188,1035.5 L188,1033.5 M186,1044 L190,1048 L193,1045 L190,1045 L190,1042 M177,1034 L180,1037 L176,1037 L177.5,1038.5 M168,1016 L164,1016 L164,1018 M193,1044 L191.5,1044 L194.5,1044 L194.5,1048 L197.5,1048 M177,1016 L181,1012 L178,1015 L175,1012 L177,1014 M176,1036 L176,1034.5 L174.5,1033 M186,1054 L182,1050 L180.5,1050 L182.5,1052 L184,1053.5 M198,1038 L198,1034 L195,1034 L193.5,1034 M180,1043 L180,1044.5 L183,1044.5 M186,1052 L186,1055 L184.5,1056.5 L187.5,1056.5 M181,1036 L185,1036 L183.5,1034.5 L183.5,1033 M190,1059 L192,1059 L195,1056 M178,1038 L176.5,1039.5 L176.5,1038 M190,1042 L190,1038 L190,1035 L192,1037 M182,1052 L184,1054 L181,1057 M178,1041 L178,1039.5 L176.5,1039.5 M206,1059 L206,1061 L206,1057 L203,1057 M203,1040 L205,1042 L205,1045 L205,1042 L205,1043.5 M176,1068 L177.5,1068 L175.5,1070 M200,1046 L200,1049 L200,1047 M185,1043 L189,1043 L190.5,1043 M177,1035 L179,1037 L182,1034 M177,1054 L178.5,1055.5 L176.5,1055.5 M177,1038 L174,1038 L174,1039.5 L171,1042.5 M187,1025 L185.5,1025 L187.5,1023 M187,1051 L187,1055 L189,1055 L189,1052 L185,1052 M203,1036 L206,1039 L208,1037 L206,1039 M190,1035 L186,1035 L186,1038 L189,1038 L187,1036 M183,1030 L183,1032 L181.5,1032 M195,1054 L197,1054 L201,1054 M193,1061 L189,1065 L189,1068 M206,1074 L204.5,1074 L200.5,1074 L198.5,1076 M201,1070 L204,1070 L202.5,1071.5 L205.5,1074.5 L207,1074.5 M206,1056 L207.5,1054.5 L209,1053 L213,1049 M200,1052 L203,1052 L203,1054 L205,1052 L203.5,1052 M195,1054 L193,1052 L195,1054 M190,1059 L190,1061 L192,1061 L192,1059.5 M205,1064 L203.5,1064 L205.5,1066 L201.5,1066 M195,1062 L195,1063.5 L195,1061.5 L195,1059.5 M192,1066 L192,1064 L190,1064 L191.5,1064 M196,1044 L196,1042.5 L196,1040.5 L194.5,1040.5 L197.5,1040.5 M180,1058 L180,1056.5 L180,1055 L176,1051 L176,1047 M209,1081 L211,1081 L208,1084 L208,1082 L208,1078 M186,1059 L187.5,1059 L190.5,1056 M199,1067 L199,1069 L199,1067.5 M192,1044 L193.5,1042.5 L193.5,1040.5 M179,1078 L179,1082 L179,1080 L183,1084 L181,1084 M210,1074 L211.5,1074 L211.5,1077 L209.5,1077 M191,1055 L191,1052 L192.5,1050.5 L190.5,1050.5 M205,1041 L205,1039 L206.5,1039 M196,1051 L196,1052.5 L196,1054 M200,1073 L198,1073 L195,1070 M179,1064 L179,1068 L183,1064 L180,1061 L184,1065 M196,1087 L196,1084 L196,1088 L198,1090 M181,1067 L181,1069 L184,1072 L186,1074 M188,1082 L185,1082 L181,1082 L181,1086 L177,1082 M181,1075 L184,1078 L188,1074 L188,1071 M197,1084 L199,1082 L197,1082 L194,1085 M188,1076 L192,1080 L194,1080 L194,1077 L195.5,1075.5 M184,1069 L182.5,1067.5 L184,1067.5 M179,1085 L181,1087 L183,1087 M199,1071 L200.5,1071 L197.5,1071 L197.5,1073 L199,1071.5 M196,1062 L199,1062 L201,1062 L201,1064 L202.5,1065.5 M175,1089 L176.5,1089 L175,1089 M186,1071 L184.5,1072.5 L188.5,1072.5 L186.5,1074.5 L186.5,1072.5 M215,1101 L215,1099.5 L213.5,1101 L213.5,1098 L215.5,1100 M216,1103 L216,1099 L218,1097 L218,1095 L222,1099 M224,1098 L227,1098 L230,1098 L230,1094 L226,1090 M220,1102 L218.5,1102 L220.5,1102 M217,1103 L221,1103 L225,1107 L222,1110 L226,1114 M224,1103 L226,1103 L223,1100 M230,1102 L232,1100 L235,1097 L236.5,1097 L232.5,1097 M229,1098 L229,1100 L232,1100 M217,1099 L215.5,1100.5 L215.5,1103.5 L218.5,1106.5 L220.5,1108.5 M225,1098 L226.5,1099.5 L226.5,1095.5 L229.5,1095.5 L229.5,1097 M225,1100 L225,1104 L225,1100 M222,1102 L225,1105 L225,1107 L229,1107 L232,1107 M216,1101 L214.5,1101 L214.5,1103 L217.5,1103 L217.5,1100 M221,1104 L221,1102.5 L219.5,1104 L221,1102.5 L218,1102.5 M236,1101 L234,1101 L231,1101 M240,1102 L242,1102 L244,1102 M237,1099 L237,1100.5 L234,1100.5 L232,1100.5 L232,1098.5 M230,1099 L230,1096 L230,1094.5 L232,1094.5 L230,1094.5 M241,1102 L238,1105 L236,1107 M235,1103 L231,1103 L235,1103 L231,1107 M227,1099 L223,1103 L225,1105 L229,1105 M243,1100 L246,1103 L246,1101.5 L243,1104.5 M227,1098 L229,1100 L229,1101.5 L233,1101.5 L231.5,1100 M228,1102 L232,1106 L233.5,1106 L231.5,1106 L235.5,1106 M238,1097 L239.5,1098.5 L239.5,1100.5 M244,1102 L244,1098 L247,1098 M232,1101 L232,1098 L233.5,1098 M237,1096 L238.5,1096 L242.5,1100 L240.5,1100 M231,1102 L234,1102 L236,1102 L232,1102 L230,1102 M239,1099 L237,1101 L240,1101 M254,1101 L258,1101 L261,1101 L265,1097 L262,1094 M254,1100 L254,1097 L252.5,1095.5 M257,1098 L254,1098 L257,1101 M248,1103 L252,1099 L253.5,1097.5 L250.5,1094.5 L249,1096 M261,1101 L261,1102.5 L262.5,1104 M256,1100 L254.5,1100 L256,1100 M259,1104 L260.5,1104 L262.5,1104 L261,1104 L262.5,1105.5 M257,1098 L257,1096 L259,1094 M254,1104 L250,1104 L246,1104 L242,1104 M257,1100 L257,1104 L253,1100 L253,1104 L253,1106 M248,1103 L248,1101 L248,1104 L248,1102 L245,1105 M264,1102 L268,1098 L265,1101 L265,1098 M245,1098 L242,1101 L242,1098 M256,1100 L256,1098 L256,1096.5 L256,1095 L256,1096.5 M251,1098 L252.5,1096.5 L252.5,1093.5 L252.5,1091.5 L254.5,1091.5 M250,1103 L250,1104.5 L248,1104.5 L248,1106 M272,1098 L275,1098 L275,1095 L276.5,1095 M268,1101 L272,1097 L272,1099 M269,1100 L269,1101.5 L269,1098.5 L266,1098.5 L269,1095.5 M274,1103 L275.5,1103 L274,1103 L278,1099 L281,1102 M262,1103 L262,1105 L262,1108 L266,1104 L264.5,1104 M276,1100 L280,1096 L283,1099 L285,1097 L285,1093 M266,1098 L266,1102 L264.5,1102 L267.5,1102 L267.5,1103.5 M274,1102 L271,1099 L267,1099 M273,1098 L271,1098 L272.5,1098 L274,1096.5 M276,1098 L276,1094 L280,1090 L278,1088 L276,1090 M280,1102 L278,1104 L278,1101 M267,1104 L267,1108 L264,1108 L268,1104 M281,1100 L281,1098.5 L279,1100.5 L277.5,1099 L275.5,1099 M271,1101 L273,1103 L277,1103 M263,1103 L263,1107 L261.5,1107 M264,1102 L265.5,1103.5 L262.5,1103.5 L259.5,1103.5 M285,1104 L286.5,1104 L283.5,1101 L283.5,1099.5 L283.5,1095.5 M286,1099 L286,1100.5 L286,1098.5 M285,1098 L285,1094 L286.5,1094 L286.5,1090 M288,1098 L285,1095 L282,1095 M284,1100 L284,1097 L282,1097 M290,1098 L290,1102 L292,1104 M285,1102 L285,1100 L286.5,1100 L286.5,1104 M280,1103 L280,1104.5 L280,1108.5 M284,1099 L284,1103 L284,1101 M281,1104 L284,1104 L288,1104 L292,1104 L292,1101 M241,1092 L239.5,1092 L243.5,1092 M246,1097 L246,1094 L248,1094 M250,1098 L253,1095 L255,1095 M241,1094 L238,1094 L242,1090 L244,1092 M243,1090 L244.5,1090 L247.5,1090 L249.5,1092 L249.5,1096 M248,1092 L249.5,1092 L248,1092 L248,1089 M264,1097 L266,1095 L262,1095 M271,1096 L267,1096 L264,1093 M263,1095 L261,1093 L263,1093 M258,1095 L261,1095 L259.5,1093.5 M272,1097 L275,1097 L278,1097 L278,1101 M271,1097 L273,1097 L273,1094 M255,1099 L253.5,1100.5 L252,1100.5 L252,1098.5 M262,1099 L258,1099 L258,1095 L258,1093.5 L259.5,1093.5 M270,1097 L268.5,1098.5 L272.5,1102.5 M279,1094 L283,1094 L285,1092 L285,1090 L285,1086 M275,1096 L279,1092 L279,1088 M272,1095 L272,1093 L272,1096 L272,1099 L275,1099 M283,1096 L284.5,1094.5 L284.5,1090.5 L280.5,1090.5 L280.5,1088.5 M278,1098 L274,1098 L276,1100 L279,1097 L275,1097 M284,1100 L286,1098 L290,1098 L288,1100 L289.5,1100 M143,825 L144.5,826.5 L143,826.5 M151,825 L149,825 L145,825 L146.5,825 M154,828 L150,832 L152,832 M144,821 L145.5,822.5 L142.5,825.5 M149,823 L151,821 L149.5,821 L151,822.5 L149.5,824 M149,826 L149,822 L146,822 L146,820 M149,827 L149,824 L145,820 L146.5,820 L142.5,820 M142,826 L143.5,826 L146.5,829 L143.5,829 M149,825 L153,825 L151.5,823.5 M143,823 L143,820 L139,816 L142,813 L146,813 M164,832 L162.5,832 L162.5,834 M163,832 L164.5,830.5 L167.5,833.5 L171.5,833.5 M164,830 L164,827 L166,827 M141,849 L142.5,849 L142.5,851 L144.5,853 L144.5,854.5 M141,851 L141,852.5 L141,850.5 M144,851 L144,852.5 L147,849.5 L145.5,849.5 M142,849 L140,849 L138.5,847.5 M142,853 L142,854.5 L143.5,856 L143.5,854 L143.5,858 M114,847 L117,847 L121,851 L119.5,852.5 L118,852.5 M115,853 L115,855 L115,857 L116.5,857 L116.5,858.5 M116,852 L118,852 L120,850 M116,847 L116,843 L119,843 L121,843 M116,840 L119,840 L119,837 L123,837 L126,837 M118,837 L122,833 L118,833 L116,833 L118,835 M114,837 L114,835.5 L110,835.5 L108.5,835.5 M114,838 L118,842 L119.5,843.5 M147,877 L147,873 L149,873 M139,875 L137.5,875 L137.5,877 L134.5,880 L134.5,884 M144,877 L147,877 L147,881 L147,877 L143,881 M137,875 L140,878 L140,875 L144,871 M142,877 L142,879 L142,881 L143.5,881 L143.5,878 M151,877 L151,881 L148,884 M150,879 L150,877 L150,874 M145,875 L145,877 L142,877 L142,874 M142,879 L142,876 L138,876 M142,874 L142,872.5 L146,872.5 L146,874.5 M171,892 L171,890 L171,894 L173,892 M167,885 L168.5,883.5 L164.5,887.5 L164.5,885.5 L163,887 M172,889 L170.5,890.5 L170.5,887.5 M173,890 L177,890 L178.5,890 L178.5,887 L178.5,888.5 M172,889 L173.5,889 L172,890.5 L172,892 M174,894 L176,894 L176,892.5 L176,888.5 L172,884.5 M171,888 L174,888 L171,888 L169.5,888 L169.5,889.5 M151,897 L151,898.5 L147,898.5 M150,895 L150,893.5 L152,891.5 L152,888.5 L152,891.5 M150,902 L153,905 L157,901 M149,901 L151,903 L147,903 L147,901.5 L151,897.5 M153,903 L153,904.5 L155,906.5 L156.5,908 L156.5,912 M151,898 L152.5,898 L152.5,895 L149.5,895 L145.5,891 M149,912 L151,910 L153,908 M153,911 L155,913 L152,910 M145,912 L147,912 L144,912 M155,924 L158,924 L159.5,924 M154,929 L154,930.5 L156,930.5 L153,930.5 M154,930 L154,932 L157,935 L157,936.5 L158.5,935 M153,921 L153,925 L149,929 M148,964 L148,962.5 L150,962.5 M161,955 L161,952 L165,952 L168,952 M156,950 L156,947 L152,943 L152,939 M154,957 L154,954 L150,950 L150,951.5 M158,944 L160,946 L158.5,947.5 M151,951 L147,951 L148.5,951 M157,951 L159,953 L159,956 L157,956 M147,948 L147,945 L147,943.5 L151,943.5 M153,941 L154.5,941 L156,941 M156,947 L156,943 L156,941.5 M152,945 L152,941 L149,938 L150.5,936.5 M147,957 L147,960 L150,960 L146,964 M156,951 L159,951 L155,955 L156.5,956.5 M147,950 L145,950 L148,947 L148,944 M148,936 L148,937.5 L144,933.5 M157,942 L154,942 L154,938 M147,958 L148.5,958 L148.5,962 L148.5,964 L145.5,967 M148,949 L149.5,947.5 L153.5,951.5 L151.5,953.5 L148.5,950.5 M154,951 L157,951 L155,951 L158,951 M148,967 L146,969 L144.5,969 L147.5,966 L147.5,964.5 M143,965 L147,965 L150,962 L150,960 M137,959 L134,956 L136,956 M148,977 L149.5,975.5 L149.5,971.5 L146.5,974.5 L146.5,971.5 M143,961 L143,963 L140,966 L138.5,967.5 M138,969 L141,972 L141,968 M139,962 L139,966 L137.5,964.5 M148,962 L146.5,960.5 L146.5,959 L146.5,957.5 M153,978 L154.5,978 L158.5,974 L155.5,977 M147,970 L148.5,968.5 L148.5,965.5 L147,965.5 L148.5,967 M531,1005 L532.5,1005 L530.5,1005 M524,999 L520,999 L516,1003 M528,1013 L532,1013 L535,1013 M517,1022 L517,1018 L519,1020 L521,1022 M521,1024 L519,1024 L519,1022 L517.5,1020.5 M521,1023 L517,1027 L520,1027 L524,1031 M522,1024 L522,1025.5 L520.5,1025.5 M557,1025 L557,1026.5 L554,1023.5 L552,1023.5 M551,1025 L555,1029 L553.5,1027.5 M588,1005 L591,1005 L591,1009 M583,1001 L585,1001 L581,1005 L582.5,1005 M599,1005 L600.5,1006.5 L600.5,1010.5 L602.5,1010.5 L606.5,1006.5 M570,1020 L570,1018 L571.5,1016.5 M571,1022 L569.5,1020.5 L569.5,1016.5 L568,1015" fill="none" stroke="#000" stroke-width="1.9" stroke-linecap="square"/>
<path d="M414.4,701.9 L427.6,700.6 L428.8,705.9 L415.4,707.1Z" fill="#fff" stroke="#000" stroke-width="1.6"/>
<path d="M285.9,1115.3 L298.2,1114.2 L320,1113.5" fill="none" stroke="#000" stroke-width="2.2" stroke-linejoin="round"/>
<path d="M135.6,960.1 L141.2,958.5 L145.6,956.7" fill="none" stroke="#000" stroke-width="2.2" stroke-linejoin="round"/>
<path d="M154.6,687.2 L161.6,686.7" fill="none" stroke="#000" stroke-width="2.2" stroke-linejoin="round"/>
<path d="M163.9,679.4 L168.6,680.2 L168.6,688" fill="none" stroke="#000" stroke-width="2.2" stroke-linejoin="round"/>
<path d="M162.4,709.8 L163.1,712.9" fill="none" stroke="#000" stroke-width="2.2" stroke-linejoin="round"/>
<path d="M162.4,730 L163.1,734.7" fill="none" stroke="#000" stroke-width="2.2" stroke-linejoin="round"/>
<path d="M176.4,762 L179.5,764.3" fill="none" stroke="#000" stroke-width="2.2" stroke-linejoin="round"/>
<path d="M183.4,747.2 L187.3,749.5" fill="none" stroke="#000" stroke-width="2.2" stroke-linejoin="round"/>
<path d="M170.9,621.7 L173.3,623.3" fill="none" stroke="#000" stroke-width="2.2" stroke-linejoin="round"/>
<path d="M195.1,692.6 L198.2,703.5" fill="none" stroke="#000" stroke-width="2.2" stroke-linejoin="round"/>
<path d="M408.9,1112.7 L416.4,1111 L426.3,1109 L433.3,1110" fill="none" stroke="#000" stroke-width="2.2" stroke-linejoin="round"/>
<path d="M410.1,1114 L418.9,1113.2 L431.3,1111.7" fill="none" stroke="#000" stroke-width="2.2" stroke-linejoin="round"/>
<path d="M412.6,1113 L423.9,1111.2 L432.6,1110.7" fill="none" stroke="#000" stroke-width="2.2" stroke-linejoin="round"/>
<path d="M275.4,1006.8 L280.1,1005.2 L290.8,1005.7 L293.5,1007.1" fill="none" stroke="#000" stroke-width="2.2" stroke-linejoin="round"/>
<path d="M303.4,951 L308.4,958.5" fill="none" stroke="#000" stroke-width="2.2" stroke-linejoin="round"/>
<path d="M302.7,951.5 L299.7,954.7" fill="none" stroke="#000" stroke-width="2.2" stroke-linejoin="round"/>
<path d="M360.9,885.1 L371.4,883.9 L380.2,881.1" fill="none" stroke="#000" stroke-width="2.2" stroke-linejoin="round"/>
<path d="M372.7,883.6 L377.7,886.6" fill="none" stroke="#000" stroke-width="2.2" stroke-linejoin="round"/>
<path d="M397.6,42.5 L395.1,48.4 L394.3,58.4 L396,68.4 L401,70.1 L401.8,78.5 L405.1,84.3 L413.5,88.5 L418.5,92.7 L421.8,89.3 L426,89.3 L426,110.2 L422.7,116.9 L416.8,120.2 L412.7,124.4 L408.5,121.1 L404.3,123.9 L396.8,119.4 L386.8,116.9 L381.8,108.5 L378.4,101.8 L374.2,98.5 L375.1,86.8 L370.9,84.3 L365.1,84.3 L363.4,88.5 L365.9,93.5 L365.1,105.2 L363.4,110.2 L356.7,110.2 L350.9,105.2 L346.7,99.3 L343.3,96.8" fill="none" stroke="#000" stroke-width="1.85" stroke-linejoin="round"/>
<path d="M475.8,56.2 L475.8,117.3 L468.8,127.3 L461.3,139.8 L451.3,151 L445.6,159.3" fill="none" stroke="#000" stroke-width="1.85" stroke-linejoin="round"/>
<path d="M476.3,108.4 L486.7,112.6 L494.2,115.1 L498.4,121.8 L505.9,125.1 L510.1,131.8 L516.8,137.7 L525.1,142.7 L530.1,146.9 L532.6,153.5 L538.5,158.5 L545.2,164.4 L550.2,171.9 L556.9,176.9 L565.2,180.3 L571.9,185.3 L578.6,192 L585.2,197.8" fill="none" stroke="#000" stroke-width="1.85" stroke-linejoin="round"/>
<path d="M417.6,176 L420.1,164.8 L423.9,159.8 L445.6,159.3 L494.5,158.5 L494.3,158.4 L494.3,234.3" fill="none" stroke="#000" stroke-width="1.85" stroke-linejoin="round"/>
<path d="M491.8,235.2 L572,235.2" fill="none" stroke="#000" stroke-width="1.85" stroke-linejoin="round"/>
<path d="M491.8,235.2 L490.9,248.5 L488.4,260.2 L487.6,273.6 L485.1,283.6 L484.3,300 L484.3,310.9" fill="none" stroke="#000" stroke-width="1.85" stroke-linejoin="round"/>
<path d="M304.2,142.8 L323.9,144.3 L339,146.8 L360.9,147.3 L360.2,158.4 L351.8,160.9 L353.5,166.7 L358.5,175.1 L361.8,182.6 L365.2,181.7 L367.7,175.9 L371,175.1" fill="none" stroke="#000" stroke-width="1.85" stroke-linejoin="round"/>
<path d="M371,175.1 L373.5,179.2 L382.7,180.1 L385.2,173.4 L396.9,173.4 L400.2,178.4 L406.9,176.7 L417.8,176.7 L419.4,168.4 L423.6,160.4 L440,160.9" fill="none" stroke="#000" stroke-width="1.85" stroke-linejoin="round"/>
<path d="M417.8,176.7 L417.8,180.1 L414.4,193.4 L410.3,201.8 L406.9,211.8 L401.9,215.1 L403.6,226.8 L398.6,231.8 L390.2,231.8 L386,234.3 L381,228.5 L376,221 L375.2,214.3 L370.2,213.5 L373.5,206.8 L378.5,200.1 L379.4,194.3 L372.7,190.1 L370.2,185.9 L371,175.1" fill="none" stroke="#000" stroke-width="1.85" stroke-linejoin="round"/>
<path d="M398.6,231.8 L399.4,243.5 L398.6,255.2 L400.2,266.9 L401.1,276.9 L404.4,285.3 L405.2,300 L404.4,300 L396.9,304.2 L391.1,306.7 L389.4,313.4 L386,321.7 L383.5,330.1 L381.9,331.7 L381.9,363.1" fill="none" stroke="#000" stroke-width="1.85" stroke-linejoin="round"/>
<path d="M404.9,286.1 L415.3,282.8 L430.3,282.8 L433.6,287.8 L440,290.3 L446.3,292.1 L461.3,295.8 L468.8,302 L471.3,310.8 L470.1,310.9 L480.1,310.9 L484.3,310.9" fill="none" stroke="#000" stroke-width="1.85" stroke-linejoin="round"/>
<path d="M480.1,310.9 L481.8,316.7 L489.3,325.1 L487.6,335.1 L484.3,343.4 L481.8,351.8 L478.4,356.8 L480.1,368.5 L485.1,378.5 L486.8,386.9 L491.8,391 L490.9,398.5 L485.1,403.6 L480.9,410.2 L478.4,416.9 L471.7,425.3 L466.7,433.6 L462.5,442" fill="none" stroke="#000" stroke-width="1.85" stroke-linejoin="round"/>
<path d="M447.5,442.8 L478.4,442.8 L480.1,444.5 L495.1,442.8 L500.1,433.6 L506.8,426.9 L515.2,418.6 L520.2,416.9 L524.3,420.3 L528.5,416.9 L532.7,410.2 L533.5,406.9" fill="none" stroke="#000" stroke-width="1.85" stroke-linejoin="round"/>
<path d="M578,212.2 L573,217.2 L571.7,225.9 L571.7,233.4 L566.7,250 L564.9,258.9 L562.3,267.8 L554.3,276.7 L551.6,285.6 L550.7,294.5 L551.6,303.5 L548.9,313.3 L549.4,310 L548.6,315 L549.4,325.1 L545.2,331.7 L540.2,338.4 L536.9,346.8 L530.2,353.4 L522.7,356 L521.8,366.8 L520.2,373.5 L520.2,383.5 L521.8,393.5 L523.5,398.5 L528.5,403.6 L533.5,406.9 L540.2,413.6 L546.9,418.6 L555.2,421.9 L565.3,425.3 L573.6,432 L583.6,432.8" fill="none" stroke="#000" stroke-width="1.85" stroke-linejoin="round"/>
<path d="M494.5,234.6 L528.7,235.9 L547.9,234.6 L571.7,234.6" fill="none" stroke="#000" stroke-width="1.85" stroke-linejoin="round"/>
<path d="M548.9,313.3 L563.2,312.4 L566.7,308.8 L577.4,307.4 L587.2,308.8 L592.6,314.1 L595.2,321.3 L597.9,323.1" fill="none" stroke="#000" stroke-width="1.85" stroke-linejoin="round"/>
<path d="M649.1,214.2 L651.6,224.7 L655.3,233.4 L659.1,240.1" fill="none" stroke="#000" stroke-width="1.85" stroke-linejoin="round"/>
<path d="M290,228.5 L297.5,226.8 L305.9,227.2 L308.4,235.2 L316.7,239.4 L320.9,240.2 L324.2,246.5 L343.4,246.5 L346.8,243.5 L353.5,246 L360.2,247.7 L363.5,260.2 L366,264.4 L373.5,268.6 L381,276.9 L385.2,288.6 L389.4,300 L391.1,306.7" fill="none" stroke="#000" stroke-width="1.85" stroke-linejoin="round"/>
<path d="M275.6,250.1 L285.7,250.6 L287.9,257.9 L292.3,264.5 L295.7,269 L292.3,271.2 L293.5,277.9 L292.3,287.9 L307.9,289 L315.7,295.7 L322.4,302.4 L328.4,305 L331.8,313.4 L340.1,321.7 L344.3,326.7 L345.1,333.4 L346,351.8 L351,353.4 L354.3,361" fill="none" stroke="#000" stroke-width="1.85" stroke-linejoin="round"/>
<path d="M258.5,375.7 L272.2,373.2 L279.7,368.2 L286,365.7 L292.2,368.2 L294.7,376.4 L300.9,376.4 L309.7,370.7 L318.4,369.4 L323.9,371.9 L323.4,372.7 L336.8,373.2" fill="none" stroke="#000" stroke-width="1.85" stroke-linejoin="round"/>
<path d="M337.6,361 L345.1,360.5 L346,363.1 L390.2,363.1 L394.4,366.8 L396.1,375.2 L405.2,376 L405.2,383.5 L403.6,395.2 L398.6,405.2 L399.4,408.6 L399.6,411.9 L399.6,496.7" fill="none" stroke="#000" stroke-width="1.85" stroke-linejoin="round"/>
<path d="M337.6,361 L337.6,373.5 L340.1,380.2 L340.9,386.9 L341.8,408.6 L345.1,416.9 L348.5,423.6 L355.1,429.4 L354.3,438.6 L355.1,450 L360.2,459.3 L360.9,481.7 L357.7,491.7 L357.7,496.7" fill="none" stroke="#000" stroke-width="1.85" stroke-linejoin="round"/>
<path d="M311.7,497.2 L323.9,497.2 L399.6,496.7" fill="none" stroke="#000" stroke-width="1.85" stroke-linejoin="round"/>
<path d="M399.6,464.3 L447.6,464.3" fill="none" stroke="#000" stroke-width="1.85" stroke-linejoin="round"/>
<path d="M447.6,443.1 L447.6,624 L448.8,624 L446.3,636.5 L446.3,650.2 L456.3,652.7 L462.5,660.2" fill="none" stroke="#000" stroke-width="1.85" stroke-linejoin="round"/>
<path d="M313.4,497.2 L314.2,586.6 L319.7,589.1 L319.7,594.1 L308.4,595.3 L302.2,599.1 L297.2,606.6 L289.7,611.6 L282.2,615.3 L274.7,622.8 L271,624 L264.8,627.7 L264.8,636.5 L259.8,644 L247.3,646.5 L237.3,649 L236,658.9 L229.8,662.7 L216.1,661.4" fill="none" stroke="#000" stroke-width="1.85" stroke-linejoin="round"/>
<path d="M253.5,502.2 L259.8,511.7 L266,519.2 L271,525.4 L272.2,532.9 L282.2,535.4 L291,536.7 L294.7,541.7 L304.7,544.2 L313.4,547.9 L323.9,549.1 L327.7,555.4 L325.2,564.1 L331.5,569.1 L341.5,569.1 L346.5,575.4 L357.7,580.3 L362.7,586.6 L386.4,587.8 L392.6,590.3 L411.4,589.1 L423.9,592.8 L433.8,596.6 L447.6,604.1" fill="none" stroke="#000" stroke-width="1.85" stroke-linejoin="round"/>
<path d="M217,692.8 L400,692.8" fill="none" stroke="#000" stroke-width="1.85" stroke-linejoin="round"/>
<path d="M220.5,823.5 L331.5,823.5" fill="none" stroke="#000" stroke-width="1.85" stroke-linejoin="round"/>
<path d="M345.2,65.4 L345.2,61.2 L349,58.7 L351.5,52.4 L355.2,46.2 L361.4,44.9 L367.7,41.2 L368.4,32 L372.7,31.2 L376.4,36.9 L382.7,41.2 L386.4,41.2 L403.9,41.2 L410.1,44.9 L415.9,46.2 L417.6,53.7 L420.1,66.2 L422.6,59.9 L426.8,53.7 L428.8,46.2 L431.3,39.4 L463.8,39.4 L465,44.4 L471.3,51.2 L477.5,56.2 L480,58.7 L483.8,66.2 L488.8,73.6 L496.2,81.1 L502.5,86.1 L508.7,89.4 L511.7,97.4 L521.2,101.1 L531.2,104.3 L536.2,106.1 L543.7,106.1 L547.9,111.1 L554.2,116.1 L560.5,122.3 L570.5,127.3 L580.5,132.3 L589.2,136 L597.9,138.5 L604.2,144.8 L607.4,151 L606.7,156 L601.7,162.3 L597.9,171 L591.7,177.2 L589.2,187.2 L586.7,196 L580.5,202.2 L577.5,208.4 L578,212.2 L597.9,212.2 L607.9,214.7 L615.4,217.7 L630.4,218.4 L637.9,219.7 L641.6,214.7 L647.9,213.4 L651.6,214.7 L655.3,215.9 L660.3,209.7 L662.8,203.4 L670.3,198.5 L677.8,193.5 L684,187.2 L686.5,177.2 L686.5,159.8 L689,156 L697.8,154.8 L704,154.8 L709,159.8 L710.3,169.7 L713.3,177.2 L711.5,189.7 L713.3,199.7 L710.3,205.9 L700.3,212.2 L695.3,217.2 L684,220.9 L679.1,227.2 L670.3,230.9 L662.8,237.1 L659.1,239.6 L659.1,245.9 L652.8,248.4 L651.4,250 L646.9,255.3 L641.6,262.5 L637.1,269.6 L632.7,273.2 L629.1,280.3 L623.7,287.4 L620.2,291.9 L614.8,293.7 L613.1,299.9 L607.7,305.2 L604.1,310.6 L599.7,315 L597.9,319.5 L599.7,326.6 L598.8,335.5 L596.1,346.2 L595.2,352.4 L592.6,360.5 L590.8,365.8 L591.7,378.3 L589.9,385.4 L590.8,394.3 L592.6,399.7 L587.9,400.6 L582.9,401.9 L581.7,411.9 L580.5,421.8 L582.9,431.8 L584.9,435.6 L581.7,444.3 L584.2,450.5 L592.9,456.8 L602.9,461.8 L610.4,466.8 L616.6,473 L620.4,479.2 L614.2,485.5 L612.4,495.5 L616.6,503 L622.9,508 L630.4,510.5 L632.4,519.2 L631.6,526.7 L625.4,532.9 L621.6,542.9 L615.4,549.1 L607.9,556.6 L607.4,566.6 L600.4,571.6 L590.4,576.6 L578,580.3 L565.5,584.1 L555.5,586.6 L548,588.6 L536.2,590.3 L518.7,592.8 L498.7,594.1 L483.8,591.6 L473.8,589.1 L473.8,596.6 L480,599.1 L481.3,611.6 L481.3,624 L476.3,624 L473.8,634 L478.8,640.2 L478.8,649 L476.3,655.2 L466.3,658.9 L460,662.7 L448.8,663.9 L431.3,663.9 L423.9,660.2 L413.9,655.2 L406.4,651.5 L400.1,654 L398.4,661.4 L398.9,668.9 L402.6,676.4 L402.6,691.4 L403.4,697.6 L411.4,698.9 L415.1,703.4 L423.9,698.9 L430.1,696.4 L436.3,695.1 L441.3,701.4 L441.8,710.1 L440.1,717.6 L431.3,720.1 L425.1,718.9 L422.6,712.6 L420.1,708.9 L411.4,710.1 L403.9,713.9 L402.6,718.9 L408.9,721.4 L421.4,723.9 L417.6,727.6 L408.9,730.1 L401.4,735.1 L396.4,743.8 L393.9,751.3 L396.4,758.8 L396.4,767.5 L392.6,773.8 L385.2,780 L385.2,788.8 L376.4,790 L363.9,792.5 L357.7,796.2 L347.7,798.7 L341.5,807.5 L337.7,815 L332.7,821.2 L331,831.2 L335.2,842.4 L344,847.4 L351.5,853.7 L357.7,858.6 L381.4,858.6 L383.4,867.4 L382.7,876.1 L380.2,884.9 L376.4,892.3 L368.9,897.3 L361.4,902.3 L351.5,907.3 L344,912.3 L337.7,918.6 L330.2,924.8 L327.7,936 L329,936 L329.5,946 L325.2,954.7 L323.9,953.5 L317.2,956 L307.2,959.7 L297.2,966 L288.5,973.4 L289.7,985.9 L292.2,998.4 L294.7,1008.4 L299.7,1015.9 L304.7,1023.4 L309.7,1030.9 L299.7,1029.6 L289.7,1027.1 L279.7,1024.6 L269.7,1020.9 L239.8,1020.4 L212.3,1019.6 L209.8,1013.4 L202.3,1005.9 L201.1,993.4 L202.3,980.9 L199.9,973.4 L184.9,978.4 L176.1,982.2 L174.9,968.5 L172.4,961 L171.1,948.5 L169.9,936 L169.9,936 L174.9,932.3 L182.4,927.3 L184.9,919.8 L194.9,914.8 L196.1,904.8 L202.3,899.8 L201.8,892.3 L197.4,886.1 L199.9,881.1 L202.3,869.9 L209.8,867.4 L211.1,858.6 L214.8,853.7 L219.8,846.2 L219.3,836.2 L216.1,828.7 L221.1,823.7 L217.3,818.7 L217.3,810 L223.6,807.5 L229.8,801.2 L227.3,796.2 L222.3,788.8 L208.6,787.5 L209.8,783.8 L229.8,783.8 L236,777.5 L234.8,773.8 L216.1,771.3 L217.3,758.8 L221.1,748.8 L218.6,743.8 L213.6,738.8 L216.8,731.3 L211.1,728.8 L206.8,723.9 L207.3,708.9 L209.8,697.6 L216.8,693.9 L214.8,678.9 L212.8,671.4 L216.1,661.4 L213.6,658.9 L212.3,646.5 L217.3,639 L216.1,631.5 L219.3,624 L219.3,624 L219.8,615.3 L227.3,609.1 L226.1,596.6 L229.8,589.1 L239.8,586.6 L241.8,582.8 L238.5,574.1 L236,561.6 L232.8,551.6 L232.3,541.7 L233.5,526.7 L236,512.9 L241,510.5 L247.3,505.5 L253.5,501.7 L255.3,494.2 L253.5,481.7 L251,473 L256,468 L258.5,456.8 L262.3,448 L266,441.8 L270.2,436.8 L269.7,421.8 L271.7,408.1 L264.8,408.1 L263.5,399.4 L261,384.4 L256.8,374.4 L258.5,365.7 L254.8,360.7 L250.3,351.9 L251,337 L257.3,334.5 L259.8,319.5 L266,312 L267.7,312 L267.7,299.6 L265.3,287.1 L264.8,275.8 L271,270.8 L272.2,262.1 L273.5,247.1 L278.5,245.9 L283.5,237.1 L289.7,228.4 L292.2,219.7 L296,214.7 L298.5,205.9 L312.2,203.4 L309.7,197.2 L304.2,189.7 L304.7,179.7 L309.2,174.7 L307.2,162.3 L304.2,156 L304.7,144.8 L309.2,142.3 L307.2,134.8 L304.2,128.6 L307.2,122.3 L312.2,116.1 L323.9,111.1 L332.7,107.8 L340.2,103.6 L342.7,96.1 L345.2,86.1 L347,74.9 L345.2,67.4Z" fill="none" stroke="#000" stroke-width="2.7" stroke-linejoin="round"/>
<path d="M303.7,1041.4 L306.9,1045.4 L313.6,1052.1 L314.9,1057.4 L310.9,1058.7 L309.6,1062.8 L316.2,1064.1 L320.3,1070.8 L328.3,1077.5 L339,1086.8 L352.3,1094.8 L365.7,1101.5 L376.4,1105.5 L389.7,1108.2 L399.1,1106.1 L399.1,1110.9 L392.4,1114.9 L373.7,1116.2 L360.3,1117.5 L349.7,1115.7 L328.3,1113.5 L317.6,1112.2 L303.7,1114.9Z" fill="none" stroke="#000" stroke-width="2.1" stroke-linejoin="round"/>
</g>
<rect x="108.3" y="6.5" width="624.0" height="1113.8" fill="none" stroke="#000" stroke-width="1.9"/>
<path d="M101.3,136.5 H108.3 M732.3,136.5 H738.3" stroke="#000" stroke-width="1.6"/>
<text x="102.3" y="147.8" class="tl" text-anchor="end" textLength="56" lengthAdjust="spacingAndGlyphs">25<tspan dy="-10.2" font-size="23">o</tspan><tspan dy="10.2">S</tspan></text>
<path d="M101.3,300.8 H108.3 M732.3,300.8 H738.3" stroke="#000" stroke-width="1.6"/>
<text x="102.3" y="312.1" class="tl" text-anchor="end" textLength="56" lengthAdjust="spacingAndGlyphs">30<tspan dy="-10.2" font-size="23">o</tspan><tspan dy="10.2">S</tspan></text>
<path d="M101.3,464.4 H108.3 M732.3,464.4 H738.3" stroke="#000" stroke-width="1.6"/>
<text x="102.3" y="475.7" class="tl" text-anchor="end" textLength="56" lengthAdjust="spacingAndGlyphs">35<tspan dy="-10.2" font-size="23">o</tspan><tspan dy="10.2">S</tspan></text>
<path d="M101.3,626.5 H108.3 M732.3,626.5 H738.3" stroke="#000" stroke-width="1.6"/>
<text x="102.3" y="637.8" class="tl" text-anchor="end" textLength="56" lengthAdjust="spacingAndGlyphs">40<tspan dy="-10.2" font-size="23">o</tspan><tspan dy="10.2">S</tspan></text>
<path d="M101.3,790.7 H108.3 M732.3,790.7 H738.3" stroke="#000" stroke-width="1.6"/>
<text x="102.3" y="802.0" class="tl" text-anchor="end" textLength="56" lengthAdjust="spacingAndGlyphs">45<tspan dy="-10.2" font-size="23">o</tspan><tspan dy="10.2">S</tspan></text>
<path d="M101.3,954.8 H108.3 M732.3,954.8 H738.3" stroke="#000" stroke-width="1.6"/>
<text x="102.3" y="966.0999999999999" class="tl" text-anchor="end" textLength="56" lengthAdjust="spacingAndGlyphs">50<tspan dy="-10.2" font-size="23">o</tspan><tspan dy="10.2">S</tspan></text>
<path d="M101.3,1118 H108.3 M732.3,1118 H738.3" stroke="#000" stroke-width="1.6"/>
<text x="102.3" y="1129.3" class="tl" text-anchor="end" textLength="56" lengthAdjust="spacingAndGlyphs">55<tspan dy="-10.2" font-size="23">o</tspan><tspan dy="10.2">S</tspan></text>
<path d="M127.7,1120.3 V1127.3 M127.7,0 V6.5" stroke="#000" stroke-width="1.6"/>
<text x="128.2" y="1154" class="tl" text-anchor="middle" textLength="58" lengthAdjust="spacingAndGlyphs">75<tspan dy="-10.2" font-size="23">o</tspan><tspan dy="10.2">O</tspan></text>
<path d="M265.8,1120.3 V1127.3 M265.8,0 V6.5" stroke="#000" stroke-width="1.6"/>
<text x="266.3" y="1154" class="tl" text-anchor="middle" textLength="58" lengthAdjust="spacingAndGlyphs">70<tspan dy="-10.2" font-size="23">o</tspan><tspan dy="10.2">O</tspan></text>
<path d="M401.6,1120.3 V1127.3 M401.6,0 V6.5" stroke="#000" stroke-width="1.6"/>
<text x="402.1" y="1154" class="tl" text-anchor="middle" textLength="58" lengthAdjust="spacingAndGlyphs">65<tspan dy="-10.2" font-size="23">o</tspan><tspan dy="10.2">O</tspan></text>
<path d="M539.6,1120.3 V1127.3 M539.6,0 V6.5" stroke="#000" stroke-width="1.6"/>
<text x="540.1" y="1154" class="tl" text-anchor="middle" textLength="58" lengthAdjust="spacingAndGlyphs">60<tspan dy="-10.2" font-size="23">o</tspan><tspan dy="10.2">O</tspan></text>
<path d="M678.2,1120.3 V1127.3 M678.2,0 V6.5" stroke="#000" stroke-width="1.6"/>
<text x="678.7" y="1154" class="tl" text-anchor="middle" textLength="58" lengthAdjust="spacingAndGlyphs">55<tspan dy="-10.2" font-size="23">o</tspan><tspan dy="10.2">O</tspan></text>
<rect x="809.5" y="190.2" width="41.0" height="23.2" fill="#381414" stroke="#000" stroke-width="1.6"/>
<rect x="809.5" y="213.4" width="41.0" height="23.2" fill="#381414" stroke="#000" stroke-width="1.6"/>
<rect x="809.5" y="236.6" width="41.0" height="23.2" fill="#6e0f0f" stroke="#000" stroke-width="1.6"/>
<rect x="809.5" y="259.8" width="41.0" height="23.2" fill="#8c0f0f" stroke="#000" stroke-width="1.6"/>
<rect x="809.5" y="283.0" width="41.0" height="23.2" fill="#c81414" stroke="#000" stroke-width="1.6"/>
<rect x="809.5" y="306.2" width="41.0" height="23.2" fill="#dc0000" stroke="#000" stroke-width="1.6"/>
<rect x="809.5" y="329.4" width="41.0" height="23.2" fill="#fa5028" stroke="#000" stroke-width="1.6"/>
<rect x="809.5" y="352.6" width="41.0" height="23.2" fill="#ff6432" stroke="#000" stroke-width="1.6"/>
<rect x="809.5" y="375.8" width="41.0" height="23.2" fill="#ff7d3c" stroke="#000" stroke-width="1.6"/>
<rect x="809.5" y="399.1" width="41.0" height="23.2" fill="#ff965a" stroke="#000" stroke-width="1.6"/>
<rect x="809.5" y="422.3" width="41.0" height="23.2" fill="#fab45f" stroke="#000" stroke-width="1.6"/>
<rect x="809.5" y="445.5" width="41.0" height="23.2" fill="#ffc05a" stroke="#000" stroke-width="1.6"/>
<rect x="809.5" y="468.7" width="41.0" height="23.2" fill="#e6eb8c" stroke="#000" stroke-width="1.6"/>
<rect x="809.5" y="491.9" width="41.0" height="23.2" fill="#e6eb8c" stroke="#000" stroke-width="1.6"/>
<rect x="809.5" y="515.1" width="41.0" height="23.2" fill="#d2f08c" stroke="#000" stroke-width="1.6"/>
<rect x="809.5" y="538.3" width="41.0" height="23.2" fill="#a0fa8c" stroke="#000" stroke-width="1.6"/>
<rect x="809.5" y="561.5" width="41.0" height="23.2" fill="#96e6aa" stroke="#000" stroke-width="1.6"/>
<rect x="809.5" y="584.7" width="41.0" height="23.2" fill="#c8f0ff" stroke="#000" stroke-width="1.6"/>
<rect x="809.5" y="607.9" width="41.0" height="23.2" fill="#aaebff" stroke="#000" stroke-width="1.6"/>
<rect x="809.5" y="631.1" width="41.0" height="23.2" fill="#96d7ff" stroke="#000" stroke-width="1.6"/>
<rect x="809.5" y="654.3" width="41.0" height="23.2" fill="#82c3ff" stroke="#000" stroke-width="1.6"/>
<rect x="809.5" y="677.5" width="41.0" height="23.2" fill="#6eafff" stroke="#000" stroke-width="1.6"/>
<rect x="809.5" y="700.7" width="41.0" height="23.2" fill="#5a9bff" stroke="#000" stroke-width="1.6"/>
<rect x="809.5" y="723.9" width="41.0" height="23.2" fill="#4687ff" stroke="#000" stroke-width="1.6"/>
<rect x="809.5" y="747.1" width="41.0" height="23.2" fill="#3273ff" stroke="#000" stroke-width="1.6"/>
<rect x="809.5" y="770.4" width="41.0" height="23.2" fill="#2855dc" stroke="#000" stroke-width="1.6"/>
<rect x="809.5" y="793.6" width="41.0" height="23.2" fill="#2846c8" stroke="#000" stroke-width="1.6"/>
<rect x="809.5" y="816.8" width="41.0" height="23.2" fill="#1e37b4" stroke="#000" stroke-width="1.6"/>
<rect x="809.5" y="840.0" width="41.0" height="23.2" fill="#1e289b" stroke="#000" stroke-width="1.6"/>
<rect x="809.5" y="863.2" width="41.0" height="23.2" fill="#14147d" stroke="#000" stroke-width="1.6"/>
<rect x="809.5" y="886.4" width="41.0" height="23.2" fill="#3c0082" stroke="#000" stroke-width="1.6"/>
<rect x="809.5" y="909.6" width="41.0" height="23.2" fill="#3c0082" stroke="#000" stroke-width="1.6"/>
<text x="852.3" y="246.4" class="cbl" textLength="24.0" lengthAdjust="spacingAndGlyphs">42</text>
<text x="852.3" y="292.8" class="cbl" textLength="24.0" lengthAdjust="spacingAndGlyphs">38</text>
<text x="852.3" y="339.2" class="cbl" textLength="24.0" lengthAdjust="spacingAndGlyphs">34</text>
<text x="852.3" y="385.6" class="cbl" textLength="24.0" lengthAdjust="spacingAndGlyphs">30</text>
<text x="852.3" y="432.1" class="cbl" textLength="24.0" lengthAdjust="spacingAndGlyphs">26</text>
<text x="852.3" y="478.5" class="cbl" textLength="24.0" lengthAdjust="spacingAndGlyphs">22</text>
<text x="852.3" y="524.9" class="cbl" textLength="24.0" lengthAdjust="spacingAndGlyphs">18</text>
<text x="852.3" y="571.3" class="cbl" textLength="24.0" lengthAdjust="spacingAndGlyphs">14</text>
<text x="852.3" y="617.7" class="cbl" textLength="24.0" lengthAdjust="spacingAndGlyphs">10</text>
<text x="852.3" y="664.1" class="cbl" textLength="12.0" lengthAdjust="spacingAndGlyphs">6</text>
<text x="852.3" y="710.5" class="cbl" textLength="12.0" lengthAdjust="spacingAndGlyphs">2</text>
<text x="852.3" y="756.9" class="cbl" textLength="20.0" lengthAdjust="spacingAndGlyphs">-2</text>
<text x="852.3" y="803.4" class="cbl" textLength="20.0" lengthAdjust="spacingAndGlyphs">-6</text>
<text x="852.3" y="849.8" class="cbl" textLength="32.0" lengthAdjust="spacingAndGlyphs">-10</text>
<text x="852.3" y="896.2" class="cbl" textLength="32.0" lengthAdjust="spacingAndGlyphs">-14</text>
<text x="852.3" y="942.6" class="cbl" textLength="32.0" lengthAdjust="spacingAndGlyphs">-18</text>
<!-- logo -->
<g>
<ellipse cx="170.1" cy="89.8" rx="41" ry="49.8" fill="#fbb01e"/>
<ellipse cx="175" cy="89.1" rx="30.2" ry="30.7" fill="#fff"/>
<rect x="186" y="69.4" width="30" height="41.5" fill="#fff"/>
<path d="M165,74 C172,70.5 180,70 187.5,71.5 C197,73.5 204,75 211,73 C216,71.5 220,69.5 223,67.5 L223,83.5 C218,86 212,87.8 206,87.8 C199,87.8 193,85 186,84.3 C178,83.5 171,85 165,87.5 Z" fill="#1e8cd2"/>
<path d="M165,95 C172,92 180,91.5 187.5,93 C197,95 204,96.5 211,94.5 C216,93 220,91.5 223,89.8 L223,104.5 C218,107 212,109.3 206,109.3 C199,109.3 193,106.5 186,106 C178,105.3 171,107 165,109.5 Z" fill="#1e8cd2"/>
<text x="126" y="186.5" style="font-size:60.5px;fill:#3a1212;stroke:#fff;stroke-width:1.6px" textLength="101.5" lengthAdjust="spacingAndGlyphs">SMN</text>
</g>
<text x="482.3" y="709.8" style="font-size:30.5px" textLength="164.5" lengthAdjust="spacingAndGlyphs">Temperaturas</text>
<text x="482.3" y="739.5" style="font-size:30.5px" textLength="153" lengthAdjust="spacingAndGlyphs">mínimas (°C)</text>
<text x="481" y="812.3" style="font-size:31.5px" textLength="136.5" lengthAdjust="spacingAndGlyphs">01-11-2022</text>
<text x="320.5" y="1211.8" style="font-size:36px" textLength="198.5" lengthAdjust="spacingAndGlyphs">Longitud oeste</text>
<text transform="translate(25.5,647.5) rotate(-90)" style="font-size:36px" textLength="170" lengthAdjust="spacingAndGlyphs">Latitud sur</text>
</svg>
</body></html>
